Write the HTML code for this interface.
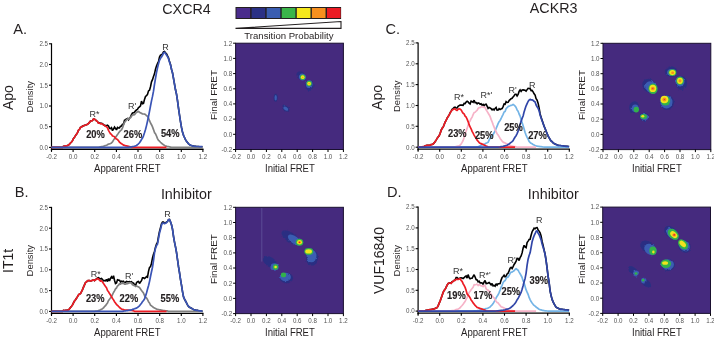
<!DOCTYPE html><html><head><meta charset="utf-8"><style>html,body{margin:0;padding:0;background:#fff;}svg{display:block;filter:blur(0.25px);}text{font-family:"Liberation Sans", sans-serif;}</style></head><body>
<svg width="714" height="338" viewBox="0 0 714 338">
<defs><filter id="soft" x="-5%" y="-5%" width="110%" height="110%"><feGaussianBlur stdDeviation="0.7"/></filter><filter id="rough" x="-5%" y="-5%" width="110%" height="110%"><feTurbulence type="fractalNoise" baseFrequency="0.3" numOctaves="2" seed="5" result="t"/><feDisplacementMap in="SourceGraphic" in2="t" scale="2.5" xChannelSelector="R" yChannelSelector="G" result="d"/><feGaussianBlur in="d" stdDeviation="0.7"/></filter>
<clipPath id="c23543"><rect x="235.6" y="43.2" width="107.8" height="106.3"/></clipPath>
<clipPath id="c235207"><rect x="235.6" y="207.3" width="107.8" height="106.3"/></clipPath>
<clipPath id="c60343"><rect x="603" y="43.3" width="107.8" height="106.3"/></clipPath>
<clipPath id="c602207"><rect x="602.7" y="207.1" width="107.8" height="106.3"/></clipPath>
</defs>
<rect width="714" height="338" fill="#fff"/>
<text x="162.3" y="13.8" font-size="14.3" fill="#231f20">CXCR4</text>
<text x="529.8" y="13.1" font-size="14.3" fill="#231f20">ACKR3</text>
<text x="13.3" y="33.9" font-size="14.6" fill="#231f20">A.</text>
<text x="14.8" y="196.7" font-size="14.6" fill="#231f20">B.</text>
<text x="385.5" y="34.1" font-size="14.6" fill="#231f20">C.</text>
<text x="386.9" y="197.3" font-size="14.6" fill="#231f20">D.</text>
<text x="160.9" y="198.5" font-size="14.3" fill="#231f20">Inhibitor</text>
<text x="527.8" y="198.5" font-size="14.3" fill="#231f20">Inhibitor</text>
<text x="13.1" y="110" font-size="14" fill="#231f20" transform="rotate(-90 13.1 110)">Apo</text>
<text x="382.1" y="109.9" font-size="14" fill="#231f20" transform="rotate(-90 382.1 109.9)">Apo</text>
<text x="13.3" y="273" font-size="14" fill="#231f20" transform="rotate(-90 13.3 273)">IT1t</text>
<text x="383.7" y="294" font-size="14" fill="#231f20" transform="rotate(-90 383.7 294)">VUF16840</text>
<rect x="235.5" y="7" width="105.6" height="12" fill="#231f20"/>
<rect x="236.50" y="8" width="13.7" height="10" fill="#4a2c8c"/>
<rect x="251.57" y="8" width="13.7" height="10" fill="#2b3185"/>
<rect x="266.64" y="8" width="13.7" height="10" fill="#3a5db0"/>
<rect x="281.71" y="8" width="13.7" height="10" fill="#3ab54a"/>
<rect x="296.78" y="8" width="13.7" height="10" fill="#f5e71c"/>
<rect x="311.85" y="8" width="13.7" height="10" fill="#f7901e"/>
<rect x="326.92" y="8" width="13.7" height="10" fill="#eb1c24"/>
<polygon points="235.5,28.4 341,21.5 341,28.4" fill="#fff" stroke="#231f20" stroke-width="1.1" stroke-linejoin="miter"/>
<text x="244.3" y="38.6" font-size="9.7" fill="#231f20" textLength="89.2" lengthAdjust="spacingAndGlyphs">Transition Probability</text>
<line x1="51.5" y1="43.3" x2="51.5" y2="150.8" stroke="#000" stroke-width="1.2"/>
<line x1="49.0" y1="147.4" x2="51.5" y2="147.4" stroke="#000" stroke-width="1.1"/>
<text transform="translate(48.0 149.7) scale(1 1.12)" font-size="6.2" fill="#555" text-anchor="end">0.0</text>
<line x1="49.0" y1="126.7" x2="51.5" y2="126.7" stroke="#000" stroke-width="1.1"/>
<text transform="translate(48.0 129.0) scale(1 1.12)" font-size="6.2" fill="#555" text-anchor="end">0.5</text>
<line x1="49.0" y1="106.0" x2="51.5" y2="106.0" stroke="#000" stroke-width="1.1"/>
<text transform="translate(48.0 108.2) scale(1 1.12)" font-size="6.2" fill="#555" text-anchor="end">1.0</text>
<line x1="49.0" y1="85.2" x2="51.5" y2="85.2" stroke="#000" stroke-width="1.1"/>
<text transform="translate(48.0 87.5) scale(1 1.12)" font-size="6.2" fill="#555" text-anchor="end">1.5</text>
<line x1="49.0" y1="64.5" x2="51.5" y2="64.5" stroke="#000" stroke-width="1.1"/>
<text transform="translate(48.0 66.8) scale(1 1.12)" font-size="6.2" fill="#555" text-anchor="end">2.0</text>
<line x1="49.0" y1="43.8" x2="51.5" y2="43.8" stroke="#000" stroke-width="1.1"/>
<text transform="translate(48.0 46.1) scale(1 1.12)" font-size="6.2" fill="#555" text-anchor="end">2.5</text>
<line x1="50.9" y1="149.3" x2="203.5" y2="149.3" stroke="#000" stroke-width="1.4"/>
<line x1="51.5" y1="149.3" x2="51.5" y2="151.9" stroke="#000" stroke-width="1.1"/>
<text transform="translate(51.5 159.3) scale(1 1.12)" font-size="6.2" fill="#555" text-anchor="middle">-0.2</text>
<line x1="73.1" y1="149.3" x2="73.1" y2="151.9" stroke="#000" stroke-width="1.1"/>
<text transform="translate(73.1 159.3) scale(1 1.12)" font-size="6.2" fill="#555" text-anchor="middle">0.0</text>
<line x1="94.7" y1="149.3" x2="94.7" y2="151.9" stroke="#000" stroke-width="1.1"/>
<text transform="translate(94.7 159.3) scale(1 1.12)" font-size="6.2" fill="#555" text-anchor="middle">0.2</text>
<line x1="116.4" y1="149.3" x2="116.4" y2="151.9" stroke="#000" stroke-width="1.1"/>
<text transform="translate(116.4 159.3) scale(1 1.12)" font-size="6.2" fill="#555" text-anchor="middle">0.4</text>
<line x1="138.0" y1="149.3" x2="138.0" y2="151.9" stroke="#000" stroke-width="1.1"/>
<text transform="translate(138.0 159.3) scale(1 1.12)" font-size="6.2" fill="#555" text-anchor="middle">0.6</text>
<line x1="159.7" y1="149.3" x2="159.7" y2="151.9" stroke="#000" stroke-width="1.1"/>
<text transform="translate(159.7 159.3) scale(1 1.12)" font-size="6.2" fill="#555" text-anchor="middle">0.8</text>
<line x1="181.3" y1="149.3" x2="181.3" y2="151.9" stroke="#000" stroke-width="1.1"/>
<text transform="translate(181.3 159.3) scale(1 1.12)" font-size="6.2" fill="#555" text-anchor="middle">1.0</text>
<line x1="202.9" y1="149.3" x2="202.9" y2="151.9" stroke="#000" stroke-width="1.1"/>
<text transform="translate(202.9 159.3) scale(1 1.12)" font-size="6.2" fill="#555" text-anchor="middle">1.2</text>
<polyline points="51.5,147.4 52.5,147.4 53.5,147.4 54.5,147.4 55.5,147.4 56.5,147.4 57.5,147.4 58.5,147.4 59.5,147.4 60.5,147.4 61.5,147.4 62.5,147.4 63.5,146.3 64.5,146.2 65.5,145.9 66.5,145.8 67.5,145.6 68.5,145.0 69.5,144.1 70.5,143.0 71.5,142.0 72.5,140.7 73.5,138.5 74.5,137.2 75.5,135.6 76.5,134.3 77.5,132.6 78.5,130.2 79.5,129.3 80.5,127.3 81.5,127.2 82.5,126.0 83.5,125.9 84.5,125.3 85.5,125.1 86.5,124.7 87.5,124.2 88.5,123.5 89.5,122.4 90.5,121.0 91.5,120.8 92.5,120.6 93.5,118.9 94.5,119.2 95.5,119.8 96.5,121.0 97.5,121.6 98.5,123.1 99.5,122.8 100.5,123.3 101.5,123.3 102.5,123.6 103.5,124.8 104.5,125.4 105.5,125.6 106.5,125.8 107.5,125.2 108.5,126.0 109.5,128.4 110.5,128.6 111.5,127.7 112.5,130.7 113.5,129.0 114.5,127.1 115.5,128.5 116.5,129.9 117.5,127.4 118.5,128.0 119.5,127.9 120.5,126.2 121.5,126.0 122.5,124.3 123.5,124.2 124.5,120.2 125.5,119.7 126.5,119.0 127.5,118.5 128.5,119.8 129.5,118.0 130.5,117.0 131.5,114.7 132.5,113.0 133.5,112.8 134.5,112.1 135.5,110.9 136.5,110.0 137.5,109.3 138.5,107.6 139.5,106.8 140.5,105.8 141.5,101.1 142.5,103.8 143.5,103.4 144.5,99.4 145.5,96.4 146.5,95.6 147.5,94.4 148.5,90.9 149.5,90.3 150.5,86.7 151.5,81.8 152.5,79.7 153.5,76.6 154.5,73.8 155.5,69.2 156.5,66.0 157.5,63.5 158.5,61.6 159.5,57.1 160.5,55.1 161.5,54.8 162.5,53.8 163.5,51.9 164.5,51.5 165.5,52.7 166.5,53.8 167.5,55.8 168.5,57.9 169.5,61.6 170.5,64.5 171.5,69.2 172.5,72.8 173.5,78.4 174.5,84.2 175.5,89.8 176.5,94.1 177.5,100.7 178.5,108.2 179.5,115.0 180.5,121.6 181.5,127.4 182.5,132.0 183.5,135.3 184.5,137.5 185.5,139.6 186.5,141.3 187.5,142.5 188.5,143.8 189.5,144.6 190.5,145.2 191.5,145.5 192.5,145.9 193.5,146.1 194.5,146.3 195.5,146.4 196.5,146.5 197.5,146.5 198.5,146.5 199.5,146.7 200.5,146.7 201.5,146.7 202.5,146.7" fill="none" stroke="#000" stroke-width="1.6" stroke-linejoin="miter" stroke-miterlimit="2"/>
<polyline points="51.5,147.4 52.5,147.4 53.5,147.4 54.5,147.4 55.5,147.4 56.5,147.4 57.5,147.4 58.5,147.4 59.5,147.4 60.5,147.4 61.5,147.4 62.5,147.4 63.5,147.4 64.5,147.4 65.5,147.4 66.5,147.4 67.5,147.4 68.5,147.4 69.5,147.4 70.5,147.4 71.5,147.4 72.5,147.4 73.5,147.4 74.5,147.4 75.5,147.4 76.5,147.4 77.5,147.4 78.5,147.4 79.5,147.4 80.5,147.4 81.5,147.4 82.5,147.4 83.5,147.4 84.5,147.4 85.5,147.4 86.5,147.4 87.5,147.4 88.5,147.4 89.5,147.4 90.5,147.4 91.5,147.4 92.5,147.4 93.5,147.4 94.5,147.4 95.5,147.4 96.5,147.4 97.5,147.4 98.5,147.3 99.5,147.1 100.5,146.9 101.5,146.7 102.5,146.5 103.5,146.2 104.5,145.9 105.5,145.5 106.5,145.2 107.5,144.7 108.5,144.0 109.5,143.9 110.5,143.5 111.5,142.9 112.5,141.9 113.5,140.1 114.5,138.6 115.5,137.4 116.5,136.0 117.5,134.6 118.5,133.1 119.5,131.7 120.5,130.6 121.5,129.9 122.5,127.9 123.5,124.9 124.5,122.5 125.5,121.2 126.5,119.9 127.5,118.8 128.5,119.3 129.5,118.0 130.5,117.8 131.5,116.2 132.5,115.0 133.5,114.8 134.5,114.6 135.5,113.4 136.5,112.3 137.5,111.9 138.5,111.4 139.5,112.3 140.5,112.9 141.5,113.3 142.5,114.0 143.5,114.0 144.5,114.1 145.5,114.5 146.5,115.7 147.5,116.1 148.5,118.0 149.5,120.7 150.5,123.0 151.5,124.7 152.5,126.9 153.5,129.6 154.5,132.6 155.5,133.8 156.5,136.0 157.5,138.6 158.5,140.4 159.5,141.2 160.5,142.3 161.5,143.2 162.5,144.1 163.5,144.7 164.5,145.4 165.5,146.1 166.5,146.2 167.5,146.7 168.5,146.7 169.5,146.9 170.5,147.1 171.5,147.3 172.5,147.3 173.5,147.4 174.5,147.4 175.5,147.4 176.5,147.4 177.5,147.4 178.5,147.4 179.5,147.4 180.5,147.4 181.5,147.4 182.5,147.4 183.5,147.4 184.5,147.4 185.5,147.4 186.5,147.4 187.5,147.4 188.5,147.4 189.5,147.4 190.5,147.4 191.5,147.4 192.5,147.4 193.5,147.4 194.5,147.4 195.5,147.4 196.5,147.4 197.5,147.4 198.5,147.4 199.5,147.4 200.5,147.4 201.5,147.4 202.5,147.4" fill="none" stroke="#808080" stroke-width="1.7" stroke-linejoin="round"/>
<polyline points="51.5,147.4 52.5,147.4 53.5,147.4 54.5,147.4 55.5,147.4 56.5,147.4 57.5,147.4 58.5,147.4 59.5,147.4 60.5,147.4 61.5,147.4 62.5,147.4 63.5,146.3 64.5,146.2 65.5,145.9 66.5,145.8 67.5,145.6 68.5,145.0 69.5,144.1 70.5,143.0 71.5,142.0 72.5,140.7 73.5,138.5 74.5,137.2 75.5,135.6 76.5,134.3 77.5,132.6 78.5,130.2 79.5,129.3 80.5,127.3 81.5,127.2 82.5,126.0 83.5,125.9 84.5,125.3 85.5,125.1 86.5,124.7 87.5,124.2 88.5,123.5 89.5,122.4 90.5,121.0 91.5,120.8 92.5,120.6 93.5,118.9 94.5,119.2 95.5,119.8 96.5,121.0 97.5,121.6 98.5,123.2 99.5,123.1 100.5,123.8 101.5,123.7 102.5,124.0 103.5,125.0 104.5,125.4 105.5,126.3 106.5,126.8 107.5,127.9 108.5,130.3 109.5,132.1 110.5,133.7 111.5,134.4 112.5,136.0 113.5,136.3 114.5,136.7 115.5,138.3 116.5,139.1 117.5,139.6 118.5,140.6 119.5,142.2 120.5,143.0 121.5,143.7 122.5,144.3 123.5,145.1 124.5,145.4 125.5,145.8 126.5,145.9 127.5,146.1 128.5,146.3 129.5,146.7 130.5,146.8 131.5,147.4 132.5,147.4 133.5,147.4 134.5,147.4 135.5,147.4 136.5,147.4 137.5,147.4 138.5,147.4 139.5,147.4 140.5,147.4 141.5,147.4 142.5,147.4 143.5,147.4 144.5,147.4 145.5,147.4 146.5,147.4 147.5,147.4 148.5,147.4 149.5,147.4 150.5,147.4 151.5,147.4 152.5,147.4 153.5,147.4 154.5,147.4 155.5,147.4 156.5,147.4 157.5,147.4 158.5,147.4 159.5,147.4 160.5,147.4 161.5,147.4 162.5,147.4 163.5,147.4 164.5,147.4 165.5,147.4 166.5,147.4" fill="none" stroke="#ed1c24" stroke-width="1.7" stroke-linejoin="round"/>
<polyline points="51.5,147.4 52.5,147.4 53.5,147.4 54.5,147.4 55.5,147.4 56.5,147.4 57.5,147.4 58.5,147.4 59.5,147.4 60.5,147.4 61.5,147.4 62.5,147.4 63.5,147.4 64.5,147.4 65.5,147.4 66.5,147.4 67.5,147.4 68.5,147.4 69.5,147.4 70.5,147.4 71.5,147.4 72.5,147.4 73.5,147.4 74.5,147.4 75.5,147.4 76.5,147.4 77.5,147.4 78.5,147.4 79.5,147.4 80.5,147.4 81.5,147.4 82.5,147.4 83.5,147.4 84.5,147.4 85.5,147.4 86.5,147.4 87.5,147.4 88.5,147.4 89.5,147.4 90.5,147.4 91.5,147.4 92.5,147.4 93.5,147.4 94.5,147.4 95.5,147.4 96.5,147.4 97.5,147.4 98.5,147.4 99.5,147.4 100.5,147.4 101.5,147.4 102.5,147.4 103.5,147.4 104.5,147.4 105.5,147.4 106.5,147.4 107.5,147.4 108.5,147.4 109.5,147.4 110.5,147.4 111.5,147.4 112.5,147.4 113.5,147.4 114.5,147.4 115.5,147.4 116.5,147.4 117.5,147.4 118.5,147.4 119.5,147.4 120.5,147.4 121.5,147.4 122.5,147.4 123.5,147.4 124.5,147.4 125.5,147.4 126.5,147.4 127.5,147.3 128.5,147.3 129.5,147.2 130.5,147.1 131.5,146.9 132.5,146.7 133.5,146.5 134.5,146.2 135.5,145.9 136.5,145.5 137.5,144.6 138.5,143.8 139.5,142.7 140.5,141.3 141.5,139.5 142.5,138.1 143.5,135.8 144.5,132.8 145.5,129.5 146.5,125.6 147.5,121.2 148.5,116.5 149.5,111.3 150.5,106.0 151.5,100.9 152.5,96.4 153.5,91.2 154.5,84.3 155.5,78.3 156.5,72.6 157.5,67.8 158.5,63.9 159.5,60.3 160.5,58.3 161.5,57.0 162.5,55.4 163.5,52.9 164.5,52.3 165.5,53.5 166.5,55.1 167.5,56.6 168.5,58.7 169.5,62.1 170.5,64.9 171.5,69.3 172.5,72.9 173.5,78.4 174.5,84.2 175.5,89.8 176.5,94.1 177.5,100.7 178.5,108.2 179.5,115.0 180.5,121.6 181.5,127.4 182.5,132.0 183.5,135.3 184.5,137.5 185.5,139.6 186.5,141.3 187.5,142.5 188.5,143.8 189.5,144.6 190.5,145.2 191.5,145.5 192.5,145.9 193.5,146.1 194.5,146.3 195.5,146.4 196.5,146.5 197.5,146.5 198.5,146.5 199.5,146.7 200.5,146.7 201.5,146.7 202.5,146.7" fill="none" stroke="#3a54b6" stroke-width="1.7" stroke-linejoin="round"/>
<text x="32.8" y="112.4" font-size="9.3" fill="#231f20" transform="rotate(-90 32.8 112.4)" textLength="31.4" lengthAdjust="spacingAndGlyphs">Density</text>
<text x="0" y="0" font-size="9.6" fill="#231f20" transform="translate(94 172.4) scale(1 1.1)" textLength="66.5" lengthAdjust="spacingAndGlyphs">Apparent FRET</text>
<text x="0" y="0" font-size="9" fill="#333" transform="translate(89.6 117.2) scale(1 1.1)">R*</text>
<text x="0" y="0" font-size="9" fill="#333" transform="translate(128.1 108.6) scale(1 1.1)">R'</text>
<text x="0" y="0" font-size="9" fill="#333" transform="translate(162.2 49.8) scale(1 1.1)">R</text>
<text x="0" y="0" font-size="9.3" fill="#231f20" font-weight="bold" stroke="#231f20" stroke-width="0.15" transform="translate(86.2 137.6) scale(1 1.12)">20%</text>
<text x="0" y="0" font-size="9.3" fill="#231f20" font-weight="bold" stroke="#231f20" stroke-width="0.15" transform="translate(123.6 137.6) scale(1 1.12)">26%</text>
<text x="0" y="0" font-size="9.3" fill="#231f20" font-weight="bold" stroke="#231f20" stroke-width="0.15" transform="translate(160.9 137.4) scale(1 1.12)">54%</text>
<line x1="51.5" y1="206.9" x2="51.5" y2="314.9" stroke="#000" stroke-width="1.2"/>
<line x1="49.0" y1="311.4" x2="51.5" y2="311.4" stroke="#000" stroke-width="1.1"/>
<text transform="translate(48.0 313.7) scale(1 1.12)" font-size="6.2" fill="#555" text-anchor="end">0.0</text>
<line x1="49.0" y1="290.6" x2="51.5" y2="290.6" stroke="#000" stroke-width="1.1"/>
<text transform="translate(48.0 292.9) scale(1 1.12)" font-size="6.2" fill="#555" text-anchor="end">0.5</text>
<line x1="49.0" y1="269.8" x2="51.5" y2="269.8" stroke="#000" stroke-width="1.1"/>
<text transform="translate(48.0 272.1) scale(1 1.12)" font-size="6.2" fill="#555" text-anchor="end">1.0</text>
<line x1="49.0" y1="249.0" x2="51.5" y2="249.0" stroke="#000" stroke-width="1.1"/>
<text transform="translate(48.0 251.3) scale(1 1.12)" font-size="6.2" fill="#555" text-anchor="end">1.5</text>
<line x1="49.0" y1="228.2" x2="51.5" y2="228.2" stroke="#000" stroke-width="1.1"/>
<text transform="translate(48.0 230.5) scale(1 1.12)" font-size="6.2" fill="#555" text-anchor="end">2.0</text>
<line x1="49.0" y1="207.4" x2="51.5" y2="207.4" stroke="#000" stroke-width="1.1"/>
<text transform="translate(48.0 209.7) scale(1 1.12)" font-size="6.2" fill="#555" text-anchor="end">2.5</text>
<line x1="50.9" y1="313.4" x2="203.5" y2="313.4" stroke="#000" stroke-width="1.4"/>
<line x1="51.5" y1="313.4" x2="51.5" y2="316.0" stroke="#000" stroke-width="1.1"/>
<text transform="translate(51.5 323.4) scale(1 1.12)" font-size="6.2" fill="#555" text-anchor="middle">-0.2</text>
<line x1="73.1" y1="313.4" x2="73.1" y2="316.0" stroke="#000" stroke-width="1.1"/>
<text transform="translate(73.1 323.4) scale(1 1.12)" font-size="6.2" fill="#555" text-anchor="middle">0.0</text>
<line x1="94.7" y1="313.4" x2="94.7" y2="316.0" stroke="#000" stroke-width="1.1"/>
<text transform="translate(94.7 323.4) scale(1 1.12)" font-size="6.2" fill="#555" text-anchor="middle">0.2</text>
<line x1="116.4" y1="313.4" x2="116.4" y2="316.0" stroke="#000" stroke-width="1.1"/>
<text transform="translate(116.4 323.4) scale(1 1.12)" font-size="6.2" fill="#555" text-anchor="middle">0.4</text>
<line x1="138.0" y1="313.4" x2="138.0" y2="316.0" stroke="#000" stroke-width="1.1"/>
<text transform="translate(138.0 323.4) scale(1 1.12)" font-size="6.2" fill="#555" text-anchor="middle">0.6</text>
<line x1="159.7" y1="313.4" x2="159.7" y2="316.0" stroke="#000" stroke-width="1.1"/>
<text transform="translate(159.7 323.4) scale(1 1.12)" font-size="6.2" fill="#555" text-anchor="middle">0.8</text>
<line x1="181.3" y1="313.4" x2="181.3" y2="316.0" stroke="#000" stroke-width="1.1"/>
<text transform="translate(181.3 323.4) scale(1 1.12)" font-size="6.2" fill="#555" text-anchor="middle">1.0</text>
<line x1="202.9" y1="313.4" x2="202.9" y2="316.0" stroke="#000" stroke-width="1.1"/>
<text transform="translate(202.9 323.4) scale(1 1.12)" font-size="6.2" fill="#555" text-anchor="middle">1.2</text>
<polyline points="51.5,311.4 52.5,311.4 53.5,311.4 54.5,311.4 55.5,311.4 56.5,311.4 57.5,311.4 58.5,311.4 59.5,311.4 60.5,311.4 61.5,311.4 62.5,311.4 63.5,310.4 64.5,310.5 65.5,310.4 66.5,310.4 67.5,310.0 68.5,309.8 69.5,308.8 70.5,307.5 71.5,306.3 72.5,304.9 73.5,302.9 74.5,301.0 75.5,299.7 76.5,298.2 77.5,296.7 78.5,294.9 79.5,294.0 80.5,293.6 81.5,291.7 82.5,289.6 83.5,287.1 84.5,284.9 85.5,282.6 86.5,282.0 87.5,280.7 88.5,280.6 89.5,280.6 90.5,280.9 91.5,280.8 92.5,280.2 93.5,279.8 94.5,280.6 95.5,279.4 96.5,279.1 97.5,277.9 98.5,277.7 99.5,278.4 100.5,278.8 101.5,278.5 102.5,279.6 103.5,280.8 104.5,280.5 105.5,280.8 106.5,279.4 107.5,281.6 108.5,278.6 109.5,280.9 110.5,278.4 111.5,276.8 112.5,278.6 113.5,275.7 114.5,280.2 115.5,283.5 116.5,283.0 117.5,279.7 118.5,280.1 119.5,280.2 120.5,282.0 121.5,281.2 122.5,281.8 123.5,281.2 124.5,282.6 125.5,282.2 126.5,281.5 127.5,281.8 128.5,281.7 129.5,281.6 130.5,281.9 131.5,281.6 132.5,282.9 133.5,283.0 134.5,284.6 135.5,285.7 136.5,282.7 137.5,281.7 138.5,281.4 139.5,283.5 140.5,281.9 141.5,280.7 142.5,277.8 143.5,277.8 144.5,278.5 145.5,277.7 146.5,276.5 147.5,277.2 148.5,271.3 149.5,267.4 150.5,266.8 151.5,263.2 152.5,258.0 153.5,254.2 154.5,251.4 155.5,247.2 156.5,244.0 157.5,242.4 158.5,236.5 159.5,231.4 160.5,227.7 161.5,223.9 162.5,222.0 163.5,222.1 164.5,223.0 165.5,222.8 166.5,222.2 167.5,221.2 168.5,219.7 169.5,219.5 170.5,221.9 171.5,224.8 172.5,229.2 173.5,236.3 174.5,242.1 175.5,246.9 176.5,252.4 177.5,259.5 178.5,266.7 179.5,272.6 180.5,279.3 181.5,285.2 182.5,291.6 183.5,296.8 184.5,299.2 185.5,301.0 186.5,302.9 187.5,304.9 188.5,306.4 189.5,307.3 190.5,307.8 191.5,308.3 192.5,308.9 193.5,309.5 194.5,309.9 195.5,310.1 196.5,310.4 197.5,310.4 198.5,310.7 199.5,310.9 200.5,310.9 201.5,311.0 202.5,311.4" fill="none" stroke="#000" stroke-width="1.6" stroke-linejoin="miter" stroke-miterlimit="2"/>
<polyline points="51.5,311.4 52.5,311.4 53.5,311.4 54.5,311.4 55.5,311.4 56.5,311.4 57.5,311.4 58.5,311.4 59.5,311.4 60.5,311.4 61.5,311.4 62.5,311.4 63.5,311.4 64.5,311.4 65.5,311.4 66.5,311.4 67.5,311.4 68.5,311.4 69.5,311.4 70.5,311.4 71.5,311.4 72.5,311.4 73.5,311.4 74.5,311.4 75.5,311.4 76.5,311.4 77.5,311.4 78.5,311.4 79.5,311.4 80.5,311.4 81.5,311.4 82.5,311.4 83.5,311.4 84.5,311.4 85.5,311.4 86.5,311.4 87.5,311.4 88.5,311.4 89.5,311.4 90.5,311.4 91.5,311.4 92.5,311.4 93.5,311.4 94.5,311.4 95.5,311.2 96.5,311.1 97.5,311.0 98.5,310.6 99.5,310.2 100.5,309.8 101.5,309.2 102.5,308.7 103.5,307.9 104.5,306.6 105.5,305.7 106.5,304.2 107.5,302.9 108.5,300.5 109.5,299.4 110.5,297.9 111.5,296.6 112.5,294.6 113.5,292.5 114.5,290.9 115.5,288.9 116.5,288.0 117.5,285.9 118.5,285.3 119.5,283.7 120.5,284.1 121.5,283.1 122.5,283.4 123.5,282.9 124.5,284.1 125.5,284.1 126.5,283.7 127.5,283.6 128.5,283.2 129.5,282.8 130.5,282.6 131.5,283.3 132.5,284.8 133.5,285.3 134.5,285.5 135.5,286.5 136.5,285.9 137.5,286.5 138.5,286.9 139.5,287.5 140.5,289.1 141.5,290.4 142.5,291.7 143.5,293.1 144.5,295.5 145.5,297.5 146.5,297.9 147.5,299.5 148.5,301.7 149.5,303.0 150.5,305.1 151.5,305.9 152.5,306.7 153.5,307.5 154.5,308.0 155.5,308.5 156.5,309.1 157.5,309.3 158.5,309.5 159.5,309.8 160.5,309.8 161.5,310.2 162.5,310.3 163.5,310.5 164.5,310.7 165.5,310.9 166.5,310.9 167.5,310.9 168.5,311.4 169.5,311.4 170.5,311.4 171.5,311.4 172.5,311.4 173.5,311.4 174.5,311.4 175.5,311.4 176.5,311.4 177.5,311.4 178.5,311.4 179.5,311.4 180.5,311.4 181.5,311.4 182.5,311.4 183.5,311.4 184.5,311.4 185.5,311.4 186.5,311.4 187.5,311.4 188.5,311.4 189.5,311.4 190.5,311.4 191.5,311.4 192.5,311.4 193.5,311.4 194.5,311.4 195.5,311.4 196.5,311.4 197.5,311.4 198.5,311.4 199.5,311.4 200.5,311.4 201.5,311.4 202.5,311.4" fill="none" stroke="#808080" stroke-width="1.7" stroke-linejoin="round"/>
<polyline points="51.5,311.4 52.5,311.4 53.5,311.4 54.5,311.4 55.5,311.4 56.5,311.4 57.5,311.4 58.5,311.4 59.5,311.4 60.5,311.4 61.5,311.4 62.5,311.4 63.5,310.4 64.5,310.5 65.5,310.4 66.5,310.4 67.5,310.0 68.5,309.8 69.5,308.8 70.5,307.5 71.5,306.3 72.5,304.9 73.5,302.9 74.5,301.0 75.5,299.7 76.5,298.2 77.5,296.7 78.5,294.9 79.5,294.0 80.5,293.6 81.5,291.7 82.5,289.6 83.5,287.1 84.5,284.9 85.5,282.6 86.5,282.0 87.5,280.7 88.5,280.6 89.5,280.6 90.5,280.9 91.5,280.8 92.5,280.2 93.5,279.8 94.5,280.6 95.5,279.7 96.5,279.5 97.5,278.4 98.5,278.9 99.5,280.1 100.5,281.1 101.5,280.8 102.5,282.0 103.5,283.4 104.5,285.1 105.5,286.4 106.5,287.7 107.5,290.5 108.5,291.7 109.5,293.6 110.5,295.0 111.5,296.6 112.5,298.5 113.5,299.8 114.5,301.7 115.5,303.1 116.5,304.5 117.5,305.3 118.5,306.4 119.5,307.3 120.5,308.3 121.5,308.9 122.5,309.4 123.5,309.6 124.5,310.0 125.5,310.1 126.5,310.0 127.5,310.0 128.5,310.2 129.5,310.3 130.5,310.4 131.5,310.4 132.5,310.6 133.5,310.7 134.5,311.4 135.5,311.4 136.5,311.4 137.5,311.4 138.5,311.4 139.5,311.4 140.5,311.4 141.5,311.4 142.5,311.4 143.5,311.4 144.5,311.4 145.5,311.4 146.5,311.4 147.5,311.4 148.5,311.4 149.5,311.4 150.5,311.4 151.5,311.4 152.5,311.4 153.5,311.4 154.5,311.4 155.5,311.4 156.5,311.4 157.5,311.4 158.5,311.4 159.5,311.4 160.5,311.4 161.5,311.4 162.5,311.4 163.5,311.4 164.5,311.4 165.5,311.4 166.5,311.4" fill="none" stroke="#ed1c24" stroke-width="1.7" stroke-linejoin="round"/>
<polyline points="51.5,311.4 52.5,311.4 53.5,311.4 54.5,311.4 55.5,311.4 56.5,311.4 57.5,311.4 58.5,311.4 59.5,311.4 60.5,311.4 61.5,311.4 62.5,311.4 63.5,311.4 64.5,311.4 65.5,311.4 66.5,311.4 67.5,311.4 68.5,311.4 69.5,311.4 70.5,311.4 71.5,311.4 72.5,311.4 73.5,311.4 74.5,311.4 75.5,311.4 76.5,311.4 77.5,311.4 78.5,311.4 79.5,311.4 80.5,311.4 81.5,311.4 82.5,311.4 83.5,311.4 84.5,311.4 85.5,311.4 86.5,311.4 87.5,311.4 88.5,311.4 89.5,311.4 90.5,311.4 91.5,311.4 92.5,311.4 93.5,311.4 94.5,311.4 95.5,311.4 96.5,311.4 97.5,311.4 98.5,311.4 99.5,311.4 100.5,311.4 101.5,311.4 102.5,311.4 103.5,311.4 104.5,311.4 105.5,311.4 106.5,311.4 107.5,311.4 108.5,311.4 109.5,311.4 110.5,311.4 111.5,311.4 112.5,311.4 113.5,311.4 114.5,311.4 115.5,311.4 116.5,311.4 117.5,311.4 118.5,311.4 119.5,311.4 120.5,311.3 121.5,311.3 122.5,311.3 123.5,311.1 124.5,311.0 125.5,310.8 126.5,310.7 127.5,310.6 128.5,310.4 129.5,310.2 130.5,310.1 131.5,309.9 132.5,309.4 133.5,309.1 134.5,308.8 135.5,308.4 136.5,308.1 137.5,307.5 138.5,306.7 139.5,305.8 140.5,304.5 141.5,303.3 142.5,301.6 143.5,300.5 144.5,299.0 145.5,296.1 146.5,293.0 147.5,289.3 148.5,285.7 149.5,281.6 150.5,276.5 151.5,271.8 152.5,267.2 153.5,260.7 154.5,252.9 155.5,248.2 156.5,245.6 157.5,244.2 158.5,238.7 159.5,233.1 160.5,229.6 161.5,225.2 162.5,223.0 163.5,223.0 164.5,223.7 165.5,223.3 166.5,222.7 167.5,221.7 168.5,219.7 169.5,219.5 170.5,221.9 171.5,224.8 172.5,229.2 173.5,236.3 174.5,242.1 175.5,246.9 176.5,252.4 177.5,259.5 178.5,266.7 179.5,272.6 180.5,279.3 181.5,285.2 182.5,291.6 183.5,296.8 184.5,299.2 185.5,301.0 186.5,302.9 187.5,304.9 188.5,306.4 189.5,307.3 190.5,307.8 191.5,308.3 192.5,308.9 193.5,309.5 194.5,309.9 195.5,310.1 196.5,310.4 197.5,310.4 198.5,310.7 199.5,310.9 200.5,310.9 201.5,311.0 202.5,311.4" fill="none" stroke="#3a54b6" stroke-width="1.7" stroke-linejoin="round"/>
<text x="32.8" y="276.4" font-size="9.3" fill="#231f20" transform="rotate(-90 32.8 276.4)" textLength="31.4" lengthAdjust="spacingAndGlyphs">Density</text>
<text x="0" y="0" font-size="9.6" fill="#231f20" transform="translate(94 335.8) scale(1 1.1)" textLength="66.5" lengthAdjust="spacingAndGlyphs">Apparent FRET</text>
<text x="0" y="0" font-size="9" fill="#333" transform="translate(90.7 277) scale(1 1.1)">R*</text>
<text x="0" y="0" font-size="9" fill="#333" transform="translate(125.1 278.5) scale(1 1.1)">R'</text>
<text x="0" y="0" font-size="9" fill="#333" transform="translate(164.2 216.5) scale(1 1.1)">R</text>
<text x="0" y="0" font-size="9.3" fill="#231f20" font-weight="bold" stroke="#231f20" stroke-width="0.15" transform="translate(85.9 301.9) scale(1 1.12)">23%</text>
<text x="0" y="0" font-size="9.3" fill="#231f20" font-weight="bold" stroke="#231f20" stroke-width="0.15" transform="translate(119.6 301.9) scale(1 1.12)">22%</text>
<text x="0" y="0" font-size="9.3" fill="#231f20" font-weight="bold" stroke="#231f20" stroke-width="0.15" transform="translate(160.6 301.9) scale(1 1.12)">55%</text>
<line x1="418.1" y1="42.4" x2="418.1" y2="150.6" stroke="#000" stroke-width="1.2"/>
<line x1="415.6" y1="147.2" x2="418.1" y2="147.2" stroke="#000" stroke-width="1.1"/>
<text transform="translate(414.6 149.5) scale(1 1.12)" font-size="6.2" fill="#555" text-anchor="end">0.0</text>
<line x1="415.6" y1="126.3" x2="418.1" y2="126.3" stroke="#000" stroke-width="1.1"/>
<text transform="translate(414.6 128.7) scale(1 1.12)" font-size="6.2" fill="#555" text-anchor="end">0.5</text>
<line x1="415.6" y1="105.5" x2="418.1" y2="105.5" stroke="#000" stroke-width="1.1"/>
<text transform="translate(414.6 107.8) scale(1 1.12)" font-size="6.2" fill="#555" text-anchor="end">1.0</text>
<line x1="415.6" y1="84.6" x2="418.1" y2="84.6" stroke="#000" stroke-width="1.1"/>
<text transform="translate(414.6 86.9) scale(1 1.12)" font-size="6.2" fill="#555" text-anchor="end">1.5</text>
<line x1="415.6" y1="63.8" x2="418.1" y2="63.8" stroke="#000" stroke-width="1.1"/>
<text transform="translate(414.6 66.1) scale(1 1.12)" font-size="6.2" fill="#555" text-anchor="end">2.0</text>
<line x1="415.6" y1="42.9" x2="418.1" y2="42.9" stroke="#000" stroke-width="1.1"/>
<text transform="translate(414.6 45.2) scale(1 1.12)" font-size="6.2" fill="#555" text-anchor="end">2.5</text>
<line x1="417.5" y1="149.1" x2="569.9" y2="149.1" stroke="#000" stroke-width="1.4"/>
<line x1="418.1" y1="149.1" x2="418.1" y2="151.7" stroke="#000" stroke-width="1.1"/>
<text transform="translate(418.1 159.1) scale(1 1.12)" font-size="6.2" fill="#555" text-anchor="middle">-0.2</text>
<line x1="439.7" y1="149.1" x2="439.7" y2="151.7" stroke="#000" stroke-width="1.1"/>
<text transform="translate(439.7 159.1) scale(1 1.12)" font-size="6.2" fill="#555" text-anchor="middle">0.0</text>
<line x1="461.3" y1="149.1" x2="461.3" y2="151.7" stroke="#000" stroke-width="1.1"/>
<text transform="translate(461.3 159.1) scale(1 1.12)" font-size="6.2" fill="#555" text-anchor="middle">0.2</text>
<line x1="482.9" y1="149.1" x2="482.9" y2="151.7" stroke="#000" stroke-width="1.1"/>
<text transform="translate(482.9 159.1) scale(1 1.12)" font-size="6.2" fill="#555" text-anchor="middle">0.4</text>
<line x1="504.5" y1="149.1" x2="504.5" y2="151.7" stroke="#000" stroke-width="1.1"/>
<text transform="translate(504.5 159.1) scale(1 1.12)" font-size="6.2" fill="#555" text-anchor="middle">0.6</text>
<line x1="526.1" y1="149.1" x2="526.1" y2="151.7" stroke="#000" stroke-width="1.1"/>
<text transform="translate(526.1 159.1) scale(1 1.12)" font-size="6.2" fill="#555" text-anchor="middle">0.8</text>
<line x1="547.7" y1="149.1" x2="547.7" y2="151.7" stroke="#000" stroke-width="1.1"/>
<text transform="translate(547.7 159.1) scale(1 1.12)" font-size="6.2" fill="#555" text-anchor="middle">1.0</text>
<line x1="569.3" y1="149.1" x2="569.3" y2="151.7" stroke="#000" stroke-width="1.1"/>
<text transform="translate(569.3 159.1) scale(1 1.12)" font-size="6.2" fill="#555" text-anchor="middle">1.2</text>
<polyline points="418.1,147.2 419.1,147.2 420.1,147.2 421.1,147.2 422.1,146.9 423.1,146.7 424.1,146.4 425.1,146.0 426.1,145.6 427.1,145.4 428.1,145.3 429.1,145.3 430.1,145.2 431.1,144.6 432.1,144.5 433.1,144.1 434.1,142.9 435.1,141.7 436.1,140.1 437.1,138.4 438.1,137.0 439.1,135.9 440.1,133.5 441.1,130.4 442.1,128.3 443.1,127.2 444.1,124.7 445.1,122.1 446.1,120.5 447.1,118.2 448.1,116.6 449.1,115.2 450.1,112.8 451.1,111.1 452.1,109.3 453.1,108.5 454.1,107.5 455.1,107.2 456.1,108.0 457.1,108.0 458.1,106.4 459.1,105.6 460.1,105.1 461.1,105.0 462.1,105.1 463.1,105.3 464.1,103.4 465.1,103.6 466.1,102.1 467.1,101.2 468.1,101.9 469.1,103.2 470.1,103.9 471.1,101.1 472.1,101.7 473.1,102.4 474.1,100.2 475.1,102.6 476.1,102.6 477.1,103.8 478.1,102.9 479.1,103.2 480.1,104.2 481.1,103.7 482.1,105.1 483.1,104.4 484.1,105.7 485.1,104.4 486.1,104.2 487.1,106.1 488.1,108.4 489.1,107.5 490.1,107.9 491.1,108.7 492.1,109.8 493.1,109.0 494.1,110.0 495.1,108.4 496.1,107.5 497.1,110.2 498.1,110.1 499.1,108.7 500.1,109.5 501.1,108.9 502.1,108.6 503.1,106.6 504.1,103.9 505.1,104.2 506.1,101.6 507.1,102.5 508.1,102.3 509.1,100.6 510.1,99.6 511.1,98.7 512.1,98.3 513.1,96.9 514.1,95.7 515.1,94.2 516.1,94.2 517.1,96.0 518.1,94.5 519.1,91.4 520.1,89.9 521.1,91.4 522.1,90.0 523.1,89.9 524.1,90.1 525.1,90.3 526.1,91.1 527.1,89.6 528.1,88.3 529.1,88.5 530.1,88.6 531.1,90.6 532.1,90.4 533.1,91.8 534.1,93.8 535.1,95.1 536.1,98.6 537.1,100.2 538.1,103.2 539.1,107.8 540.1,113.9 541.1,117.3 542.1,120.3 543.1,123.3 544.1,126.3 545.1,128.5 546.1,131.3 547.1,133.5 548.1,136.1 549.1,137.6 550.1,139.6 551.1,141.0 552.1,141.7 553.1,142.8 554.1,143.5 555.1,144.1 556.1,144.4 557.1,144.9 558.1,145.4 559.1,145.5 560.1,145.5 561.1,145.7 562.1,145.8 563.1,145.9 564.1,146.1 565.1,146.2 566.1,146.4 567.1,146.4 568.1,146.5 569.1,146.6" fill="none" stroke="#000" stroke-width="1.6" stroke-linejoin="miter" stroke-miterlimit="2"/>
<polyline points="418.1,147.2 419.1,147.2 420.1,147.2 421.1,147.2 422.1,147.2 423.1,147.2 424.1,147.2 425.1,147.2 426.1,147.2 427.1,147.2 428.1,147.2 429.1,147.2 430.1,147.2 431.1,147.2 432.1,147.2 433.1,147.2 434.1,147.2 435.1,147.2 436.1,147.2 437.1,147.2 438.1,147.2 439.1,147.2 440.1,147.2 441.1,147.2 442.1,147.2 443.1,147.2 444.1,147.2 445.1,147.2 446.1,147.2 447.1,147.2 448.1,147.2 449.1,147.2 450.1,147.2 451.1,147.2 452.1,147.2 453.1,147.2 454.1,147.2 455.1,147.2 456.1,147.2 457.1,147.2 458.1,147.2 459.1,147.2 460.1,147.2 461.1,147.2 462.1,147.2 463.1,147.2 464.1,147.2 465.1,147.2 466.1,147.2 467.1,147.2 468.1,147.2 469.1,147.2 470.1,147.2 471.1,147.2 472.1,147.2 473.1,147.2 474.1,147.1 475.1,147.0 476.1,147.0 477.1,146.8 478.1,146.6 479.1,146.3 480.1,145.8 481.1,145.2 482.1,145.0 483.1,144.6 484.1,144.2 485.1,143.8 486.1,143.1 487.1,142.8 488.1,142.3 489.1,140.2 490.1,138.1 491.1,136.9 492.1,136.0 493.1,134.5 494.1,132.8 495.1,131.0 496.1,128.5 497.1,126.1 498.1,123.7 499.1,121.7 500.1,120.4 501.1,118.5 502.1,116.3 503.1,114.3 504.1,112.0 505.1,111.5 506.1,108.6 507.1,107.7 508.1,106.6 509.1,106.1 510.1,105.8 511.1,105.3 512.1,105.2 513.1,104.4 514.1,105.2 515.1,106.1 516.1,107.5 517.1,109.9 518.1,111.3 519.1,114.0 520.1,116.0 521.1,119.5 522.1,122.6 523.1,125.7 524.1,128.9 525.1,132.5 526.1,135.1 527.1,137.3 528.1,139.1 529.1,141.4 530.1,142.5 531.1,143.3 532.1,143.8 533.1,144.5 534.1,145.0 535.1,145.5 536.1,145.9 537.1,146.2 538.1,146.3 539.1,146.4 540.1,146.7 541.1,146.7 542.1,146.8 543.1,147.0 544.1,147.1 545.1,147.2 546.1,147.2 547.1,147.2 548.1,147.2 549.1,147.2 550.1,147.2 551.1,147.2 552.1,147.2 553.1,147.2 554.1,147.2 555.1,147.2 556.1,147.2 557.1,147.2 558.1,147.2 559.1,147.2 560.1,147.2 561.1,147.2 562.1,147.2 563.1,147.2 564.1,147.2 565.1,147.2 566.1,147.2 567.1,147.2 568.1,147.2 569.1,147.2" fill="none" stroke="#74b4e6" stroke-width="1.7" stroke-linejoin="round"/>
<polyline points="418.1,147.2 419.1,147.2 420.1,147.2 421.1,147.2 422.1,147.2 423.1,147.2 424.1,147.2 425.1,147.2 426.1,147.2 427.1,147.2 428.1,147.2 429.1,147.2 430.1,147.2 431.1,147.2 432.1,147.2 433.1,147.2 434.1,147.2 435.1,147.2 436.1,147.2 437.1,147.2 438.1,147.2 439.1,147.2 440.1,147.2 441.1,147.2 442.1,147.2 443.1,147.2 444.1,147.2 445.1,147.2 446.1,147.2 447.1,147.2 448.1,147.2 449.1,147.2 450.1,147.2 451.1,147.2 452.1,147.2 453.1,147.1 454.1,147.0 455.1,146.9 456.1,146.6 457.1,146.3 458.1,146.1 459.1,145.9 460.1,145.1 461.1,144.0 462.1,142.4 463.1,140.5 464.1,137.4 465.1,133.9 466.1,131.3 467.1,128.4 468.1,125.2 469.1,122.2 470.1,120.9 471.1,118.7 472.1,117.1 473.1,114.7 474.1,112.6 475.1,112.3 476.1,111.2 477.1,110.4 478.1,108.5 479.1,107.6 480.1,107.7 481.1,106.8 482.1,107.0 483.1,106.9 484.1,107.4 485.1,107.4 486.1,109.8 487.1,111.4 488.1,113.0 489.1,114.7 490.1,116.5 491.1,119.4 492.1,121.8 493.1,124.6 494.1,127.1 495.1,129.6 496.1,131.7 497.1,133.8 498.1,135.0 499.1,136.6 500.1,138.4 501.1,139.7 502.1,141.1 503.1,142.1 504.1,142.7 505.1,142.9 506.1,143.4 507.1,143.9 508.1,144.6 509.1,145.1 510.1,145.3 511.1,145.8 512.1,146.2 513.1,146.3 514.1,146.5 515.1,146.7 516.1,146.9 517.1,147.1 518.1,147.1 519.1,147.2 520.1,147.2 521.1,147.2 522.1,147.2 523.1,147.2 524.1,147.2 525.1,147.2 526.1,147.2 527.1,147.2 528.1,147.2 529.1,147.2 530.1,147.2 531.1,147.2 532.1,147.2 533.1,147.2 534.1,147.2 535.1,147.2 536.1,147.2" fill="none" stroke="#f6b3c8" stroke-width="1.7" stroke-linejoin="round"/>
<polyline points="418.1,147.2 419.1,147.2 420.1,147.2 421.1,147.2 422.1,146.9 423.1,146.7 424.1,146.4 425.1,146.0 426.1,145.6 427.1,145.4 428.1,145.3 429.1,145.3 430.1,145.2 431.1,144.6 432.1,144.5 433.1,144.1 434.1,142.9 435.1,141.7 436.1,140.1 437.1,138.4 438.1,137.0 439.1,135.9 440.1,133.5 441.1,130.4 442.1,128.3 443.1,127.2 444.1,124.7 445.1,122.1 446.1,120.5 447.1,118.2 448.1,116.6 449.1,115.2 450.1,113.0 451.1,111.4 452.1,110.0 453.1,109.5 454.1,108.9 455.1,108.9 456.1,110.0 457.1,110.5 458.1,109.2 459.1,108.7 460.1,109.1 461.1,109.9 462.1,111.7 463.1,113.2 464.1,113.9 465.1,116.2 466.1,117.0 467.1,119.1 468.1,121.6 469.1,124.7 470.1,126.8 471.1,128.8 472.1,131.4 473.1,133.2 474.1,135.1 475.1,136.9 476.1,138.4 477.1,140.1 478.1,141.3 479.1,142.5 480.1,143.2 481.1,143.6 482.1,144.2 483.1,144.4 484.1,144.9 485.1,145.4 486.1,146.0 487.1,146.3 488.1,147.2 489.1,147.2 490.1,147.2 491.1,147.2 492.1,147.2 493.1,147.2 494.1,147.2 495.1,147.2 496.1,147.2 497.1,147.2 498.1,147.2 499.1,147.2 500.1,147.2 501.1,147.2 502.1,147.2 503.1,147.2 504.1,147.2 505.1,147.2 506.1,147.2 507.1,147.2 508.1,147.2 509.1,147.2 510.1,147.2 511.1,147.2 512.1,147.2 513.1,147.2 514.1,147.2 515.1,147.2" fill="none" stroke="#ed1c24" stroke-width="1.7" stroke-linejoin="round"/>
<polyline points="418.1,147.2 419.1,147.2 420.1,147.2 421.1,147.2 422.1,147.2 423.1,147.2 424.1,147.2 425.1,147.2 426.1,147.2 427.1,147.2 428.1,147.2 429.1,147.2 430.1,147.2 431.1,147.2 432.1,147.2 433.1,147.2 434.1,147.2 435.1,147.2 436.1,147.2 437.1,147.2 438.1,147.2 439.1,147.2 440.1,147.2 441.1,147.2 442.1,147.2 443.1,147.2 444.1,147.2 445.1,147.2 446.1,147.2 447.1,147.2 448.1,147.2 449.1,147.2 450.1,147.2 451.1,147.2 452.1,147.2 453.1,147.2 454.1,147.2 455.1,147.2 456.1,147.2 457.1,147.2 458.1,147.2 459.1,147.2 460.1,147.2 461.1,147.2 462.1,147.2 463.1,147.2 464.1,147.2 465.1,147.2 466.1,147.2 467.1,147.2 468.1,147.2 469.1,147.2 470.1,147.2 471.1,147.2 472.1,147.2 473.1,147.2 474.1,147.2 475.1,147.2 476.1,147.2 477.1,147.2 478.1,147.2 479.1,147.2 480.1,147.2 481.1,147.2 482.1,147.2 483.1,147.2 484.1,147.2 485.1,147.2 486.1,147.2 487.1,147.2 488.1,147.2 489.1,147.2 490.1,147.2 491.1,147.2 492.1,147.2 493.1,147.2 494.1,147.2 495.1,147.2 496.1,147.2 497.1,147.2 498.1,147.1 499.1,147.0 500.1,146.9 501.1,146.7 502.1,146.5 503.1,146.4 504.1,146.1 505.1,145.8 506.1,145.5 507.1,145.2 508.1,144.6 509.1,144.0 510.1,143.2 511.1,142.4 512.1,141.6 513.1,140.6 514.1,138.7 515.1,137.0 516.1,135.7 517.1,133.6 518.1,131.1 519.1,128.3 520.1,124.4 521.1,121.3 522.1,118.4 523.1,116.0 524.1,111.9 525.1,108.8 526.1,105.8 527.1,103.6 528.1,101.5 529.1,100.1 530.1,99.3 531.1,99.9 532.1,99.9 533.1,100.3 534.1,101.3 535.1,101.9 536.1,105.0 537.1,106.7 538.1,108.3 539.1,110.9 540.1,114.9 541.1,117.9 542.1,120.8 543.1,123.5 544.1,126.3 545.1,128.5 546.1,131.3 547.1,133.5 548.1,136.1 549.1,137.6 550.1,139.6 551.1,141.0 552.1,141.7 553.1,142.8 554.1,143.5 555.1,144.1 556.1,144.4 557.1,144.9 558.1,145.4 559.1,145.5 560.1,145.5 561.1,145.7 562.1,145.8 563.1,145.9 564.1,146.1 565.1,146.2 566.1,146.4 567.1,146.4 568.1,146.5 569.1,146.6" fill="none" stroke="#3045a8" stroke-width="1.7" stroke-linejoin="round"/>
<text x="400.4" y="112" font-size="9.3" fill="#231f20" transform="rotate(-90 400.4 112)" textLength="31.4" lengthAdjust="spacingAndGlyphs">Density</text>
<text x="0" y="0" font-size="9.6" fill="#231f20" transform="translate(461 172.4) scale(1 1.1)" textLength="66.5" lengthAdjust="spacingAndGlyphs">Apparent FRET</text>
<text x="0" y="0" font-size="9" fill="#333" transform="translate(453.9 99.9) scale(1 1.1)">R*</text>
<text x="0" y="0" font-size="9" fill="#333" transform="translate(480.6 98.1) scale(1 1.1)">R*'</text>
<text x="0" y="0" font-size="9" fill="#333" transform="translate(508.6 93.3) scale(1 1.1)">R'</text>
<text x="0" y="0" font-size="9" fill="#333" transform="translate(529 87.5) scale(1 1.1)">R</text>
<text x="0" y="0" font-size="9.3" fill="#231f20" font-weight="bold" stroke="#231f20" stroke-width="0.15" transform="translate(448 136.8) scale(1 1.12)">23%</text>
<text x="0" y="0" font-size="9.3" fill="#231f20" font-weight="bold" stroke="#231f20" stroke-width="0.15" transform="translate(474.9 138.9) scale(1 1.12)">25%</text>
<text x="0" y="0" font-size="9.3" fill="#231f20" font-weight="bold" stroke="#231f20" stroke-width="0.15" transform="translate(504.2 130.6) scale(1 1.12)">25%</text>
<text x="0" y="0" font-size="9.3" fill="#231f20" font-weight="bold" stroke="#231f20" stroke-width="0.15" transform="translate(528.2 138.6) scale(1 1.12)">27%</text>
<line x1="418.1" y1="206.6" x2="418.1" y2="314.6" stroke="#000" stroke-width="1.2"/>
<line x1="415.6" y1="311.1" x2="418.1" y2="311.1" stroke="#000" stroke-width="1.1"/>
<text transform="translate(414.6 313.4) scale(1 1.12)" font-size="6.2" fill="#555" text-anchor="end">0.0</text>
<line x1="415.6" y1="290.3" x2="418.1" y2="290.3" stroke="#000" stroke-width="1.1"/>
<text transform="translate(414.6 292.6) scale(1 1.12)" font-size="6.2" fill="#555" text-anchor="end">0.5</text>
<line x1="415.6" y1="269.5" x2="418.1" y2="269.5" stroke="#000" stroke-width="1.1"/>
<text transform="translate(414.6 271.8) scale(1 1.12)" font-size="6.2" fill="#555" text-anchor="end">1.0</text>
<line x1="415.6" y1="248.7" x2="418.1" y2="248.7" stroke="#000" stroke-width="1.1"/>
<text transform="translate(414.6 251.0) scale(1 1.12)" font-size="6.2" fill="#555" text-anchor="end">1.5</text>
<line x1="415.6" y1="227.9" x2="418.1" y2="227.9" stroke="#000" stroke-width="1.1"/>
<text transform="translate(414.6 230.2) scale(1 1.12)" font-size="6.2" fill="#555" text-anchor="end">2.0</text>
<line x1="415.6" y1="207.1" x2="418.1" y2="207.1" stroke="#000" stroke-width="1.1"/>
<text transform="translate(414.6 209.4) scale(1 1.12)" font-size="6.2" fill="#555" text-anchor="end">2.5</text>
<line x1="417.5" y1="313.1" x2="569.9" y2="313.1" stroke="#000" stroke-width="1.4"/>
<line x1="418.1" y1="313.1" x2="418.1" y2="315.7" stroke="#000" stroke-width="1.1"/>
<text transform="translate(418.1 323.1) scale(1 1.12)" font-size="6.2" fill="#555" text-anchor="middle">-0.2</text>
<line x1="439.7" y1="313.1" x2="439.7" y2="315.7" stroke="#000" stroke-width="1.1"/>
<text transform="translate(439.7 323.1) scale(1 1.12)" font-size="6.2" fill="#555" text-anchor="middle">0.0</text>
<line x1="461.3" y1="313.1" x2="461.3" y2="315.7" stroke="#000" stroke-width="1.1"/>
<text transform="translate(461.3 323.1) scale(1 1.12)" font-size="6.2" fill="#555" text-anchor="middle">0.2</text>
<line x1="482.9" y1="313.1" x2="482.9" y2="315.7" stroke="#000" stroke-width="1.1"/>
<text transform="translate(482.9 323.1) scale(1 1.12)" font-size="6.2" fill="#555" text-anchor="middle">0.4</text>
<line x1="504.5" y1="313.1" x2="504.5" y2="315.7" stroke="#000" stroke-width="1.1"/>
<text transform="translate(504.5 323.1) scale(1 1.12)" font-size="6.2" fill="#555" text-anchor="middle">0.6</text>
<line x1="526.1" y1="313.1" x2="526.1" y2="315.7" stroke="#000" stroke-width="1.1"/>
<text transform="translate(526.1 323.1) scale(1 1.12)" font-size="6.2" fill="#555" text-anchor="middle">0.8</text>
<line x1="547.7" y1="313.1" x2="547.7" y2="315.7" stroke="#000" stroke-width="1.1"/>
<text transform="translate(547.7 323.1) scale(1 1.12)" font-size="6.2" fill="#555" text-anchor="middle">1.0</text>
<line x1="569.3" y1="313.1" x2="569.3" y2="315.7" stroke="#000" stroke-width="1.1"/>
<text transform="translate(569.3 323.1) scale(1 1.12)" font-size="6.2" fill="#555" text-anchor="middle">1.2</text>
<polyline points="418.1,311.1 419.1,311.1 420.1,311.1 421.1,311.1 422.1,311.1 423.1,311.1 424.1,311.0 425.1,310.7 426.1,310.4 427.1,310.2 428.1,310.0 429.1,309.8 430.1,309.6 431.1,309.6 432.1,309.3 433.1,309.0 434.1,309.0 435.1,308.4 436.1,308.0 437.1,307.6 438.1,305.9 439.1,303.4 440.1,301.1 441.1,298.3 442.1,295.6 443.1,292.5 444.1,290.5 445.1,289.4 446.1,287.4 447.1,285.2 448.1,283.6 449.1,283.0 450.1,282.9 451.1,283.2 452.1,281.7 453.1,281.2 454.1,280.5 455.1,280.1 456.1,277.6 457.1,277.6 458.1,278.7 459.1,278.6 460.1,278.1 461.1,277.9 462.1,278.0 463.1,278.5 464.1,277.7 465.1,276.5 466.1,275.9 467.1,278.1 468.1,274.6 469.1,277.5 470.1,278.8 471.1,278.3 472.1,278.3 473.1,276.3 474.1,274.8 475.1,277.0 476.1,279.6 477.1,280.0 478.1,281.9 479.1,281.2 480.1,282.9 481.1,282.9 482.1,283.0 483.1,284.2 484.1,281.9 485.1,280.5 486.1,283.6 487.1,283.4 488.1,283.0 489.1,282.5 490.1,283.6 491.1,284.9 492.1,283.5 493.1,285.9 494.1,285.4 495.1,286.2 496.1,283.7 497.1,285.1 498.1,283.7 499.1,283.7 500.1,283.6 501.1,280.1 502.1,277.4 503.1,276.5 504.1,275.2 505.1,276.8 506.1,276.2 507.1,274.0 508.1,273.2 509.1,270.9 510.1,268.2 511.1,267.3 512.1,268.5 513.1,266.7 514.1,264.5 515.1,263.0 516.1,261.1 517.1,258.4 518.1,258.5 519.1,260.6 520.1,257.6 521.1,256.0 522.1,252.9 523.1,248.1 524.1,245.4 525.1,247.0 526.1,247.7 527.1,242.5 528.1,241.1 529.1,239.5 530.1,239.3 531.1,235.3 532.1,231.7 533.1,230.0 534.1,228.1 535.1,228.8 536.1,227.8 537.1,227.7 538.1,229.9 539.1,231.1 540.1,232.8 541.1,236.0 542.1,241.4 543.1,245.5 544.1,250.0 545.1,254.2 546.1,260.5 547.1,268.2 548.1,276.5 549.1,282.5 550.1,290.8 551.1,295.6 552.1,299.4 553.1,301.9 554.1,303.8 555.1,305.7 556.1,307.1 557.1,307.8 558.1,308.2 559.1,308.8 560.1,309.3 561.1,309.2 562.1,309.3 563.1,309.5 564.1,309.6 565.1,309.8 566.1,309.9 567.1,310.0 568.1,310.1 569.1,310.3" fill="none" stroke="#000" stroke-width="1.6" stroke-linejoin="miter" stroke-miterlimit="2"/>
<polyline points="418.1,311.1 419.1,311.1 420.1,311.1 421.1,311.1 422.1,311.1 423.1,311.1 424.1,311.1 425.1,311.1 426.1,311.1 427.1,311.1 428.1,311.1 429.1,311.1 430.1,311.1 431.1,311.1 432.1,311.1 433.1,311.1 434.1,311.1 435.1,311.1 436.1,311.1 437.1,311.1 438.1,311.1 439.1,311.1 440.1,311.1 441.1,311.1 442.1,311.1 443.1,311.1 444.1,311.1 445.1,311.1 446.1,311.1 447.1,311.1 448.1,311.1 449.1,311.1 450.1,311.1 451.1,311.1 452.1,311.1 453.1,311.1 454.1,311.1 455.1,311.1 456.1,311.1 457.1,311.1 458.1,311.1 459.1,311.1 460.1,311.1 461.1,311.1 462.1,311.1 463.1,311.1 464.1,311.1 465.1,311.1 466.1,311.1 467.1,311.1 468.1,311.1 469.1,311.1 470.1,311.1 471.1,311.1 472.1,311.1 473.1,311.0 474.1,310.9 475.1,310.8 476.1,310.8 477.1,310.7 478.1,310.5 479.1,310.4 480.1,310.0 481.1,309.8 482.1,309.7 483.1,309.4 484.1,309.1 485.1,308.9 486.1,308.6 487.1,308.4 488.1,308.1 489.1,307.6 490.1,307.0 491.1,305.8 492.1,304.9 493.1,303.6 494.1,301.9 495.1,300.2 496.1,298.0 497.1,296.2 498.1,294.8 499.1,292.6 500.1,290.0 501.1,287.2 502.1,285.3 503.1,282.5 504.1,281.2 505.1,280.6 506.1,278.6 507.1,277.2 508.1,277.1 509.1,275.4 510.1,273.3 511.1,272.1 512.1,272.1 513.1,271.4 514.1,270.7 515.1,269.5 516.1,268.7 517.1,269.5 518.1,270.2 519.1,272.1 520.1,273.8 521.1,275.5 522.1,277.5 523.1,280.9 524.1,282.9 525.1,286.5 526.1,289.9 527.1,292.2 528.1,294.3 529.1,297.4 530.1,299.6 531.1,301.6 532.1,303.0 533.1,304.3 534.1,305.3 535.1,306.1 536.1,307.0 537.1,307.8 538.1,308.5 539.1,309.2 540.1,309.6 541.1,309.9 542.1,310.3 543.1,310.4 544.1,310.7 545.1,310.8 546.1,310.9 547.1,311.0 548.1,311.1 549.1,311.1 550.1,311.1 551.1,311.1 552.1,311.1 553.1,311.1 554.1,311.1 555.1,311.1 556.1,311.1 557.1,311.1 558.1,311.1 559.1,311.1 560.1,311.1 561.1,311.1 562.1,311.1 563.1,311.1 564.1,311.1 565.1,311.1 566.1,311.1 567.1,311.1 568.1,311.1 569.1,311.1" fill="none" stroke="#74b4e6" stroke-width="1.7" stroke-linejoin="round"/>
<polyline points="418.1,311.1 419.1,311.1 420.1,311.1 421.1,311.1 422.1,311.1 423.1,311.1 424.1,311.1 425.1,311.1 426.1,311.1 427.1,311.1 428.1,311.1 429.1,311.1 430.1,311.1 431.1,311.1 432.1,311.1 433.1,311.1 434.1,311.1 435.1,311.1 436.1,311.1 437.1,311.1 438.1,311.1 439.1,311.1 440.1,311.1 441.1,311.1 442.1,311.1 443.1,311.1 444.1,311.1 445.1,311.1 446.1,311.1 447.1,311.1 448.1,311.1 449.1,311.1 450.1,311.0 451.1,310.9 452.1,310.7 453.1,310.6 454.1,310.4 455.1,310.1 456.1,309.6 457.1,309.3 458.1,309.1 459.1,308.5 460.1,307.8 461.1,306.5 462.1,305.5 463.1,304.3 464.1,302.8 465.1,301.5 466.1,299.4 467.1,297.6 468.1,295.2 469.1,292.6 470.1,291.3 471.1,289.7 472.1,288.5 473.1,287.3 474.1,284.7 475.1,284.8 476.1,284.5 477.1,284.1 478.1,285.6 479.1,284.6 480.1,285.0 481.1,285.8 482.1,285.8 483.1,286.6 484.1,285.2 485.1,285.7 486.1,288.7 487.1,289.8 488.1,290.1 489.1,291.2 490.1,293.2 491.1,294.4 492.1,295.6 493.1,297.2 494.1,298.0 495.1,299.6 496.1,301.2 497.1,302.5 498.1,302.9 499.1,304.4 500.1,305.4 501.1,306.8 502.1,307.1 503.1,307.6 504.1,308.1 505.1,308.6 506.1,309.3 507.1,309.8 508.1,310.2 509.1,310.3 510.1,310.5 511.1,310.7 512.1,310.7 513.1,310.9 514.1,310.9 515.1,311.0 516.1,311.1 517.1,311.1 518.1,311.1 519.1,311.1 520.1,311.1 521.1,311.1 522.1,311.1 523.1,311.1 524.1,311.1 525.1,311.1 526.1,311.1 527.1,311.1 528.1,311.1 529.1,311.1 530.1,311.1 531.1,311.1 532.1,311.1 533.1,311.1 534.1,311.1 535.1,311.1 536.1,311.1" fill="none" stroke="#f6b3c8" stroke-width="1.7" stroke-linejoin="round"/>
<polyline points="418.1,311.1 419.1,311.1 420.1,311.1 421.1,311.1 422.1,311.1 423.1,311.1 424.1,311.0 425.1,310.7 426.1,310.4 427.1,310.2 428.1,310.0 429.1,309.8 430.1,309.6 431.1,309.6 432.1,309.3 433.1,309.0 434.1,309.0 435.1,308.4 436.1,308.0 437.1,307.6 438.1,305.9 439.1,303.4 440.1,301.1 441.1,298.3 442.1,295.6 443.1,292.5 444.1,290.5 445.1,289.4 446.1,287.4 447.1,285.2 448.1,283.6 449.1,283.0 450.1,283.0 451.1,283.4 452.1,282.0 453.1,281.4 454.1,280.4 455.1,280.4 456.1,279.3 457.1,279.3 458.1,279.3 459.1,279.1 460.1,278.6 461.1,280.3 462.1,281.3 463.1,283.7 464.1,285.4 465.1,287.4 466.1,290.3 467.1,293.9 468.1,295.1 469.1,296.3 470.1,297.9 471.1,299.9 472.1,301.3 473.1,302.9 474.1,304.1 475.1,305.4 476.1,306.3 477.1,307.5 478.1,307.7 479.1,308.1 480.1,308.6 481.1,308.7 482.1,309.1 483.1,309.6 484.1,309.8 485.1,310.2 486.1,311.1 487.1,311.1 488.1,311.1 489.1,311.1 490.1,311.1 491.1,311.1 492.1,311.1 493.1,311.1 494.1,311.1 495.1,311.1 496.1,311.1 497.1,311.1 498.1,311.1 499.1,311.1 500.1,311.1 501.1,311.1 502.1,311.1 503.1,311.1 504.1,311.1 505.1,311.1 506.1,311.1 507.1,311.1 508.1,311.1 509.1,311.1 510.1,311.1 511.1,311.1 512.1,311.1 513.1,311.1 514.1,311.1 515.1,311.1" fill="none" stroke="#ed1c24" stroke-width="1.7" stroke-linejoin="round"/>
<polyline points="418.1,311.1 419.1,311.1 420.1,311.1 421.1,311.1 422.1,311.1 423.1,311.1 424.1,311.1 425.1,311.1 426.1,311.1 427.1,311.1 428.1,311.1 429.1,311.1 430.1,311.1 431.1,311.1 432.1,311.1 433.1,311.1 434.1,311.1 435.1,311.1 436.1,311.1 437.1,311.1 438.1,311.1 439.1,311.1 440.1,311.1 441.1,311.1 442.1,311.1 443.1,311.1 444.1,311.1 445.1,311.1 446.1,311.1 447.1,311.1 448.1,311.1 449.1,311.1 450.1,311.1 451.1,311.1 452.1,311.1 453.1,311.1 454.1,311.1 455.1,311.1 456.1,311.1 457.1,311.1 458.1,311.1 459.1,311.1 460.1,311.1 461.1,311.1 462.1,311.1 463.1,311.1 464.1,311.1 465.1,311.1 466.1,311.1 467.1,311.1 468.1,311.1 469.1,311.1 470.1,311.1 471.1,311.1 472.1,311.1 473.1,311.1 474.1,311.1 475.1,311.1 476.1,311.1 477.1,311.1 478.1,311.1 479.1,311.1 480.1,311.1 481.1,311.1 482.1,311.1 483.1,311.1 484.1,311.1 485.1,311.1 486.1,311.1 487.1,311.1 488.1,311.1 489.1,311.1 490.1,311.1 491.1,311.1 492.1,311.1 493.1,311.1 494.1,311.1 495.1,311.1 496.1,311.0 497.1,310.9 498.1,310.8 499.1,310.7 500.1,310.6 501.1,310.4 502.1,310.3 503.1,310.2 504.1,310.0 505.1,309.8 506.1,309.4 507.1,309.1 508.1,308.9 509.1,308.5 510.1,308.0 511.1,307.3 512.1,306.4 513.1,305.5 514.1,304.5 515.1,303.2 516.1,301.7 517.1,299.8 518.1,298.5 519.1,296.3 520.1,294.5 521.1,292.4 522.1,289.2 523.1,285.7 524.1,281.8 525.1,278.4 526.1,273.1 527.1,265.2 528.1,259.2 529.1,255.5 530.1,252.8 531.1,247.4 532.1,241.8 533.1,238.4 534.1,235.7 535.1,233.7 536.1,231.2 537.1,230.8 538.1,233.1 539.1,234.7 540.1,237.1 541.1,239.9 542.1,244.0 543.1,247.2 544.1,250.5 545.1,254.5 546.1,260.7 547.1,268.3 548.1,276.5 549.1,282.5 550.1,290.8 551.1,295.6 552.1,299.4 553.1,301.9 554.1,303.8 555.1,305.7 556.1,307.1 557.1,307.8 558.1,308.2 559.1,308.8 560.1,309.3 561.1,309.2 562.1,309.3 563.1,309.5 564.1,309.6 565.1,309.8 566.1,309.9 567.1,310.0 568.1,310.1 569.1,310.3" fill="none" stroke="#3045a8" stroke-width="1.7" stroke-linejoin="round"/>
<text x="400.3" y="276.4" font-size="9.3" fill="#231f20" transform="rotate(-90 400.3 276.4)" textLength="31.4" lengthAdjust="spacingAndGlyphs">Density</text>
<text x="0" y="0" font-size="9.6" fill="#231f20" transform="translate(461 335.8) scale(1 1.1)" textLength="66.5" lengthAdjust="spacingAndGlyphs">Apparent FRET</text>
<text x="0" y="0" font-size="9" fill="#333" transform="translate(453 273.5) scale(1 1.1)">R*</text>
<text x="0" y="0" font-size="9" fill="#333" transform="translate(479.1 277.5) scale(1 1.1)">R*'</text>
<text x="0" y="0" font-size="9" fill="#333" transform="translate(507.5 263.3) scale(1 1.1)">R'</text>
<text x="0" y="0" font-size="9" fill="#333" transform="translate(536.1 223.4) scale(1 1.1)">R</text>
<text x="0" y="0" font-size="9.3" fill="#231f20" font-weight="bold" stroke="#231f20" stroke-width="0.15" transform="translate(447.1 298.8) scale(1 1.12)">19%</text>
<text x="0" y="0" font-size="9.3" fill="#231f20" font-weight="bold" stroke="#231f20" stroke-width="0.15" transform="translate(473.6 298.8) scale(1 1.12)">17%</text>
<text x="0" y="0" font-size="9.3" fill="#231f20" font-weight="bold" stroke="#231f20" stroke-width="0.15" transform="translate(501.5 294.8) scale(1 1.12)">25%</text>
<text x="0" y="0" font-size="9.3" fill="#231f20" font-weight="bold" stroke="#231f20" stroke-width="0.15" transform="translate(529.5 284.2) scale(1 1.12)">39%</text>
<rect x="235.6" y="43.2" width="107.8" height="106.3" fill="rgb(69,42,126)"/>
<g clip-path="url(#c23543)" filter="url(#rough)">
<ellipse cx="301.3" cy="75.8" rx="5.28" ry="4.05" fill="#2b2f82" transform="rotate(35 301.3 75.8)"/>
<ellipse cx="309.4" cy="85.5" rx="4.05" ry="5.28" fill="#2b2f82"/>
<ellipse cx="275.7" cy="97.7" rx="2.11" ry="3.96" fill="#2b2f82"/>
<ellipse cx="285.7" cy="108.5" rx="3.78" ry="2.64" fill="#2b2f82" transform="rotate(35 285.7 108.5)"/>
<ellipse cx="302.5" cy="77.0" rx="3.6" ry="3.24" fill="#3a5db2" transform="rotate(35 302.5 77.0)"/>
<ellipse cx="309.2" cy="84.2" rx="3.33" ry="3.87" fill="#3a5db2"/>
<ellipse cx="275.7" cy="97.7" rx="1.17" ry="2.7" fill="#3a5db2"/>
<ellipse cx="285.8" cy="108.6" rx="2.7" ry="1.62" fill="#3a5db2" transform="rotate(35 285.8 108.6)"/>
</g>
<g clip-path="url(#c23543)" filter="url(#soft)">
<ellipse cx="302.7" cy="77.2" rx="2.73" ry="2.73" fill="#33b24c"/>
<ellipse cx="309.1" cy="83.6" rx="2.73" ry="2.73" fill="#33b24c"/>
<ellipse cx="302.7" cy="77.2" rx="1.84" ry="1.84" fill="#f1e41e"/>
<ellipse cx="309.1" cy="83.6" rx="1.84" ry="1.84" fill="#f1e41e"/>
<ellipse cx="302.8" cy="77.3" rx="0.66" ry="0.66" fill="#f6911f"/>
<ellipse cx="309.1" cy="83.6" rx="0.66" ry="0.66" fill="#f6911f"/>
</g>
<rect x="235.6" y="43.2" width="107.8" height="106.3" fill="none" stroke="#1a1030" stroke-width="1"/>
<line x1="233.1" y1="149.5" x2="235.6" y2="149.5" stroke="#000" stroke-width="1"/>
<text transform="translate(232.1 151.8) scale(1 1.12)" font-size="6.2" fill="#555" text-anchor="end">-0.2</text>
<line x1="235.6" y1="149.5" x2="235.6" y2="152.0" stroke="#000" stroke-width="1"/>
<text transform="translate(235.6 159.2) scale(1 1.12)" font-size="6.2" fill="#555" text-anchor="middle">-0.2</text>
<line x1="233.1" y1="134.3" x2="235.6" y2="134.3" stroke="#000" stroke-width="1"/>
<text transform="translate(232.1 136.6) scale(1 1.12)" font-size="6.2" fill="#555" text-anchor="end">0.0</text>
<line x1="251.0" y1="149.5" x2="251.0" y2="152.0" stroke="#000" stroke-width="1"/>
<text transform="translate(251.0 159.2) scale(1 1.12)" font-size="6.2" fill="#555" text-anchor="middle">0.0</text>
<line x1="233.1" y1="119.1" x2="235.6" y2="119.1" stroke="#000" stroke-width="1"/>
<text transform="translate(232.1 121.4) scale(1 1.12)" font-size="6.2" fill="#555" text-anchor="end">0.2</text>
<line x1="266.4" y1="149.5" x2="266.4" y2="152.0" stroke="#000" stroke-width="1"/>
<text transform="translate(266.4 159.2) scale(1 1.12)" font-size="6.2" fill="#555" text-anchor="middle">0.2</text>
<line x1="233.1" y1="103.9" x2="235.6" y2="103.9" stroke="#000" stroke-width="1"/>
<text transform="translate(232.1 106.2) scale(1 1.12)" font-size="6.2" fill="#555" text-anchor="end">0.4</text>
<line x1="281.8" y1="149.5" x2="281.8" y2="152.0" stroke="#000" stroke-width="1"/>
<text transform="translate(281.8 159.2) scale(1 1.12)" font-size="6.2" fill="#555" text-anchor="middle">0.4</text>
<line x1="233.1" y1="88.8" x2="235.6" y2="88.8" stroke="#000" stroke-width="1"/>
<text transform="translate(232.1 91.1) scale(1 1.12)" font-size="6.2" fill="#555" text-anchor="end">0.6</text>
<line x1="297.2" y1="149.5" x2="297.2" y2="152.0" stroke="#000" stroke-width="1"/>
<text transform="translate(297.2 159.2) scale(1 1.12)" font-size="6.2" fill="#555" text-anchor="middle">0.6</text>
<line x1="233.1" y1="73.6" x2="235.6" y2="73.6" stroke="#000" stroke-width="1"/>
<text transform="translate(232.1 75.9) scale(1 1.12)" font-size="6.2" fill="#555" text-anchor="end">0.8</text>
<line x1="312.6" y1="149.5" x2="312.6" y2="152.0" stroke="#000" stroke-width="1"/>
<text transform="translate(312.6 159.2) scale(1 1.12)" font-size="6.2" fill="#555" text-anchor="middle">0.8</text>
<line x1="233.1" y1="58.4" x2="235.6" y2="58.4" stroke="#000" stroke-width="1"/>
<text transform="translate(232.1 60.7) scale(1 1.12)" font-size="6.2" fill="#555" text-anchor="end">1.0</text>
<line x1="328.0" y1="149.5" x2="328.0" y2="152.0" stroke="#000" stroke-width="1"/>
<text transform="translate(328.0 159.2) scale(1 1.12)" font-size="6.2" fill="#555" text-anchor="middle">1.0</text>
<line x1="233.1" y1="43.2" x2="235.6" y2="43.2" stroke="#000" stroke-width="1"/>
<text transform="translate(232.1 45.5) scale(1 1.12)" font-size="6.2" fill="#555" text-anchor="end">1.2</text>
<line x1="343.4" y1="149.5" x2="343.4" y2="152.0" stroke="#000" stroke-width="1"/>
<text transform="translate(343.4 159.2) scale(1 1.12)" font-size="6.2" fill="#555" text-anchor="middle">1.2</text>
<text x="217.2" y="120.0" font-size="9.6" fill="#231f20" transform="rotate(-90 217.2 120.0)" textLength="50" lengthAdjust="spacingAndGlyphs">Final FRET</text>
<text x="0" y="0" font-size="9.6" fill="#231f20" transform="translate(265 172) scale(1 1.1)" textLength="49.8" lengthAdjust="spacingAndGlyphs">Initial FRET</text>
<rect x="235.6" y="207.3" width="107.8" height="106.3" fill="rgb(69,42,126)"/>
<g clip-path="url(#c235207)" filter="url(#rough)">
<ellipse cx="290.5" cy="237.5" rx="10.56" ry="4.84" fill="#2b2f82" transform="rotate(35 290.5 237.5)"/>
<ellipse cx="312" cy="257.5" rx="6.16" ry="8.36" fill="#2b2f82"/>
<ellipse cx="270" cy="262" rx="7.92" ry="4.84" fill="#2b2f82" transform="rotate(35 270 262)"/>
<ellipse cx="286.5" cy="278" rx="6.6" ry="5.28" fill="#2b2f82"/>
<ellipse cx="294.5" cy="240" rx="7.65" ry="3.78" fill="#3a5db2" transform="rotate(35 294.5 240)"/>
<ellipse cx="311.5" cy="256" rx="4.95" ry="6.3" fill="#3a5db2"/>
<ellipse cx="274.5" cy="267" rx="4.05" ry="3.78" fill="#3a5db2"/>
<ellipse cx="285.5" cy="277" rx="5.4" ry="4.32" fill="#3a5db2"/>
</g>
<g clip-path="url(#c235207)" filter="url(#soft)">
<ellipse cx="299.5" cy="242.3" rx="3.78" ry="3.57" fill="#33b24c"/>
<ellipse cx="308.8" cy="251.5" rx="4.51" ry="3.46" fill="#33b24c"/>
<ellipse cx="275.6" cy="266.9" rx="2.73" ry="2.73" fill="#33b24c"/>
<ellipse cx="283.5" cy="274.9" rx="2.62" ry="2.31" fill="#33b24c"/>
<ellipse cx="299.5" cy="242.3" rx="2.53" ry="2.3" fill="#f1e41e"/>
<ellipse cx="308.6" cy="251.4" rx="3.33" ry="2.18" fill="#f1e41e"/>
<ellipse cx="275.6" cy="267" rx="1.26" ry="1.26" fill="#f1e41e"/>
<ellipse cx="299.5" cy="242.3" rx="1.32" ry="1.32" fill="#f6911f"/>
<ellipse cx="299.6" cy="242.4" rx="0.6" ry="0.6" fill="#e9202a"/>
</g>
<line x1="261.8" y1="207.8" x2="261.8" y2="261.6" stroke="#5c4c96" stroke-width="1"/>
<rect x="235.6" y="207.3" width="107.8" height="106.3" fill="none" stroke="#1a1030" stroke-width="1"/>
<line x1="233.1" y1="313.6" x2="235.6" y2="313.6" stroke="#000" stroke-width="1"/>
<text transform="translate(232.1 315.9) scale(1 1.12)" font-size="6.2" fill="#555" text-anchor="end">-0.2</text>
<line x1="235.6" y1="313.6" x2="235.6" y2="316.1" stroke="#000" stroke-width="1"/>
<text transform="translate(235.6 323.3) scale(1 1.12)" font-size="6.2" fill="#555" text-anchor="middle">-0.2</text>
<line x1="233.1" y1="298.4" x2="235.6" y2="298.4" stroke="#000" stroke-width="1"/>
<text transform="translate(232.1 300.7) scale(1 1.12)" font-size="6.2" fill="#555" text-anchor="end">0.0</text>
<line x1="251.0" y1="313.6" x2="251.0" y2="316.1" stroke="#000" stroke-width="1"/>
<text transform="translate(251.0 323.3) scale(1 1.12)" font-size="6.2" fill="#555" text-anchor="middle">0.0</text>
<line x1="233.1" y1="283.2" x2="235.6" y2="283.2" stroke="#000" stroke-width="1"/>
<text transform="translate(232.1 285.5) scale(1 1.12)" font-size="6.2" fill="#555" text-anchor="end">0.2</text>
<line x1="266.4" y1="313.6" x2="266.4" y2="316.1" stroke="#000" stroke-width="1"/>
<text transform="translate(266.4 323.3) scale(1 1.12)" font-size="6.2" fill="#555" text-anchor="middle">0.2</text>
<line x1="233.1" y1="268.0" x2="235.6" y2="268.0" stroke="#000" stroke-width="1"/>
<text transform="translate(232.1 270.3) scale(1 1.12)" font-size="6.2" fill="#555" text-anchor="end">0.4</text>
<line x1="281.8" y1="313.6" x2="281.8" y2="316.1" stroke="#000" stroke-width="1"/>
<text transform="translate(281.8 323.3) scale(1 1.12)" font-size="6.2" fill="#555" text-anchor="middle">0.4</text>
<line x1="233.1" y1="252.9" x2="235.6" y2="252.9" stroke="#000" stroke-width="1"/>
<text transform="translate(232.1 255.2) scale(1 1.12)" font-size="6.2" fill="#555" text-anchor="end">0.6</text>
<line x1="297.2" y1="313.6" x2="297.2" y2="316.1" stroke="#000" stroke-width="1"/>
<text transform="translate(297.2 323.3) scale(1 1.12)" font-size="6.2" fill="#555" text-anchor="middle">0.6</text>
<line x1="233.1" y1="237.7" x2="235.6" y2="237.7" stroke="#000" stroke-width="1"/>
<text transform="translate(232.1 240.0) scale(1 1.12)" font-size="6.2" fill="#555" text-anchor="end">0.8</text>
<line x1="312.6" y1="313.6" x2="312.6" y2="316.1" stroke="#000" stroke-width="1"/>
<text transform="translate(312.6 323.3) scale(1 1.12)" font-size="6.2" fill="#555" text-anchor="middle">0.8</text>
<line x1="233.1" y1="222.5" x2="235.6" y2="222.5" stroke="#000" stroke-width="1"/>
<text transform="translate(232.1 224.8) scale(1 1.12)" font-size="6.2" fill="#555" text-anchor="end">1.0</text>
<line x1="328.0" y1="313.6" x2="328.0" y2="316.1" stroke="#000" stroke-width="1"/>
<text transform="translate(328.0 323.3) scale(1 1.12)" font-size="6.2" fill="#555" text-anchor="middle">1.0</text>
<line x1="233.1" y1="207.3" x2="235.6" y2="207.3" stroke="#000" stroke-width="1"/>
<text transform="translate(232.1 209.6) scale(1 1.12)" font-size="6.2" fill="#555" text-anchor="end">1.2</text>
<line x1="343.4" y1="313.6" x2="343.4" y2="316.1" stroke="#000" stroke-width="1"/>
<text transform="translate(343.4 323.3) scale(1 1.12)" font-size="6.2" fill="#555" text-anchor="middle">1.2</text>
<text x="217.2" y="284.1" font-size="9.6" fill="#231f20" transform="rotate(-90 217.2 284.1)" textLength="50" lengthAdjust="spacingAndGlyphs">Final FRET</text>
<text x="0" y="0" font-size="9.6" fill="#231f20" transform="translate(265 336) scale(1 1.1)" textLength="49.8" lengthAdjust="spacingAndGlyphs">Initial FRET</text>
<rect x="603" y="43.3" width="107.8" height="106.3" fill="rgb(69,42,126)"/>
<g clip-path="url(#c60343)" filter="url(#rough)">
<ellipse cx="671" cy="71.5" rx="6.16" ry="5.28" fill="#2b2f82"/>
<ellipse cx="681.5" cy="83" rx="5.72" ry="7.04" fill="#2b2f82"/>
<ellipse cx="649.5" cy="86" rx="7.92" ry="6.6" fill="#2b2f82" transform="rotate(40 649.5 86)"/>
<ellipse cx="667" cy="102.5" rx="7.04" ry="7.48" fill="#2b2f82"/>
<ellipse cx="634" cy="107" rx="4.84" ry="5.72" fill="#2b2f82" transform="rotate(20 634 107)"/>
<ellipse cx="644.3" cy="117" rx="4.84" ry="3.96" fill="#2b2f82" transform="rotate(10 644.3 117)"/>
<ellipse cx="671.5" cy="72.5" rx="4.5" ry="3.6" fill="#3a5db2"/>
<ellipse cx="680" cy="81.5" rx="4.5" ry="4.95" fill="#3a5db2"/>
<ellipse cx="651" cy="87" rx="6.3" ry="5.4" fill="#3a5db2" transform="rotate(40 651 87)"/>
<ellipse cx="666.5" cy="102" rx="6.03" ry="6.48" fill="#3a5db2"/>
<ellipse cx="635.2" cy="108.2" rx="3.42" ry="3.78" fill="#3a5db2"/>
<ellipse cx="644.3" cy="117" rx="4.23" ry="3.06" fill="#3a5db2" transform="rotate(10 644.3 117)"/>
</g>
<g clip-path="url(#c60343)" filter="url(#soft)">
<ellipse cx="672.4" cy="72.6" rx="3.99" ry="3.36" fill="#33b24c"/>
<ellipse cx="680" cy="80.8" rx="3.78" ry="3.99" fill="#33b24c"/>
<ellipse cx="653" cy="88.7" rx="4.62" ry="5.25" fill="#33b24c"/>
<ellipse cx="665.5" cy="100.8" rx="4.73" ry="4.73" fill="#33b24c"/>
<ellipse cx="636.3" cy="109.6" rx="2.62" ry="2.84" fill="#33b24c"/>
<ellipse cx="643.6" cy="116.5" rx="3.57" ry="2.52" fill="#33b24c"/>
<ellipse cx="672.4" cy="72.6" rx="3.1" ry="2.53" fill="#f1e41e"/>
<ellipse cx="680" cy="80.8" rx="2.88" ry="3.1" fill="#f1e41e"/>
<ellipse cx="652.8" cy="88.4" rx="3.45" ry="3.68" fill="#f1e41e"/>
<ellipse cx="664.4" cy="99.5" rx="3.91" ry="3.79" fill="#f1e41e"/>
<ellipse cx="642.8" cy="116.2" rx="1.49" ry="1.26" fill="#f1e41e"/>
<ellipse cx="672.6" cy="72.7" rx="1.43" ry="1.21" fill="#f6911f"/>
<ellipse cx="680" cy="80.8" rx="1.54" ry="1.65" fill="#f6911f"/>
<ellipse cx="652.8" cy="88.5" rx="1.87" ry="1.87" fill="#f6911f"/>
<ellipse cx="664.4" cy="99.5" rx="1.98" ry="1.98" fill="#f6911f"/>
<ellipse cx="652.8" cy="88.5" rx="0.6" ry="0.6" fill="#e9202a"/>
<ellipse cx="664.4" cy="99.5" rx="0.6" ry="0.6" fill="#e9202a"/>
</g>
<rect x="603" y="43.3" width="107.8" height="106.3" fill="none" stroke="#1a1030" stroke-width="1"/>
<line x1="600.5" y1="149.6" x2="603" y2="149.6" stroke="#000" stroke-width="1"/>
<text transform="translate(599.5 151.9) scale(1 1.12)" font-size="6.2" fill="#555" text-anchor="end">-0.2</text>
<line x1="603.0" y1="149.6" x2="603.0" y2="152.1" stroke="#000" stroke-width="1"/>
<text transform="translate(603.0 159.3) scale(1 1.12)" font-size="6.2" fill="#555" text-anchor="middle">-0.2</text>
<line x1="600.5" y1="134.4" x2="603" y2="134.4" stroke="#000" stroke-width="1"/>
<text transform="translate(599.5 136.7) scale(1 1.12)" font-size="6.2" fill="#555" text-anchor="end">0.0</text>
<line x1="618.4" y1="149.6" x2="618.4" y2="152.1" stroke="#000" stroke-width="1"/>
<text transform="translate(618.4 159.3) scale(1 1.12)" font-size="6.2" fill="#555" text-anchor="middle">0.0</text>
<line x1="600.5" y1="119.2" x2="603" y2="119.2" stroke="#000" stroke-width="1"/>
<text transform="translate(599.5 121.5) scale(1 1.12)" font-size="6.2" fill="#555" text-anchor="end">0.2</text>
<line x1="633.8" y1="149.6" x2="633.8" y2="152.1" stroke="#000" stroke-width="1"/>
<text transform="translate(633.8 159.3) scale(1 1.12)" font-size="6.2" fill="#555" text-anchor="middle">0.2</text>
<line x1="600.5" y1="104.0" x2="603" y2="104.0" stroke="#000" stroke-width="1"/>
<text transform="translate(599.5 106.3) scale(1 1.12)" font-size="6.2" fill="#555" text-anchor="end">0.4</text>
<line x1="649.2" y1="149.6" x2="649.2" y2="152.1" stroke="#000" stroke-width="1"/>
<text transform="translate(649.2 159.3) scale(1 1.12)" font-size="6.2" fill="#555" text-anchor="middle">0.4</text>
<line x1="600.5" y1="88.9" x2="603" y2="88.9" stroke="#000" stroke-width="1"/>
<text transform="translate(599.5 91.2) scale(1 1.12)" font-size="6.2" fill="#555" text-anchor="end">0.6</text>
<line x1="664.6" y1="149.6" x2="664.6" y2="152.1" stroke="#000" stroke-width="1"/>
<text transform="translate(664.6 159.3) scale(1 1.12)" font-size="6.2" fill="#555" text-anchor="middle">0.6</text>
<line x1="600.5" y1="73.7" x2="603" y2="73.7" stroke="#000" stroke-width="1"/>
<text transform="translate(599.5 76.0) scale(1 1.12)" font-size="6.2" fill="#555" text-anchor="end">0.8</text>
<line x1="680.0" y1="149.6" x2="680.0" y2="152.1" stroke="#000" stroke-width="1"/>
<text transform="translate(680.0 159.3) scale(1 1.12)" font-size="6.2" fill="#555" text-anchor="middle">0.8</text>
<line x1="600.5" y1="58.5" x2="603" y2="58.5" stroke="#000" stroke-width="1"/>
<text transform="translate(599.5 60.8) scale(1 1.12)" font-size="6.2" fill="#555" text-anchor="end">1.0</text>
<line x1="695.4" y1="149.6" x2="695.4" y2="152.1" stroke="#000" stroke-width="1"/>
<text transform="translate(695.4 159.3) scale(1 1.12)" font-size="6.2" fill="#555" text-anchor="middle">1.0</text>
<line x1="600.5" y1="43.3" x2="603" y2="43.3" stroke="#000" stroke-width="1"/>
<text transform="translate(599.5 45.6) scale(1 1.12)" font-size="6.2" fill="#555" text-anchor="end">1.2</text>
<line x1="710.8" y1="149.6" x2="710.8" y2="152.1" stroke="#000" stroke-width="1"/>
<text transform="translate(710.8 159.3) scale(1 1.12)" font-size="6.2" fill="#555" text-anchor="middle">1.2</text>
<text x="584.6" y="120.0" font-size="9.6" fill="#231f20" transform="rotate(-90 584.6 120.0)" textLength="50" lengthAdjust="spacingAndGlyphs">Final FRET</text>
<text x="0" y="0" font-size="9.6" fill="#231f20" transform="translate(632 172) scale(1 1.1)" textLength="49.8" lengthAdjust="spacingAndGlyphs">Initial FRET</text>
<rect x="602.7" y="207.1" width="107.8" height="106.3" fill="rgb(69,42,126)"/>
<g clip-path="url(#c602207)" filter="url(#rough)">
<ellipse cx="671" cy="232.5" rx="7.92" ry="5.28" fill="#2b2f82" transform="rotate(45 671 232.5)"/>
<ellipse cx="684.5" cy="246.5" rx="6.6" ry="5.72" fill="#2b2f82" transform="rotate(45 684.5 246.5)"/>
<ellipse cx="648" cy="247" rx="8.36" ry="5.72" fill="#2b2f82" transform="rotate(30 648 247)"/>
<ellipse cx="668" cy="265" rx="7.04" ry="6.16" fill="#2b2f82"/>
<ellipse cx="633" cy="270.5" rx="5.72" ry="3.34" fill="#2b2f82" transform="rotate(40 633 270.5)"/>
<ellipse cx="646" cy="283" rx="6.16" ry="3.34" fill="#2b2f82" transform="rotate(40 646 283)"/>
<ellipse cx="672" cy="233.7" rx="6.75" ry="4.32" fill="#3a5db2" transform="rotate(45 672 233.7)"/>
<ellipse cx="684.5" cy="246" rx="5.85" ry="4.77" fill="#3a5db2" transform="rotate(45 684.5 246)"/>
<ellipse cx="650.5" cy="249.5" rx="6.75" ry="5.22" fill="#3a5db2" transform="rotate(35 650.5 249.5)"/>
<ellipse cx="667.5" cy="264.5" rx="6.48" ry="5.31" fill="#3a5db2"/>
<ellipse cx="636" cy="273.5" rx="2.88" ry="2.88" fill="#3a5db2"/>
<ellipse cx="643.7" cy="280.6" rx="2.7" ry="2.88" fill="#3a5db2"/>
</g>
<g clip-path="url(#c602207)" filter="url(#soft)">
<ellipse cx="673.3" cy="234.3" rx="6.51" ry="4.41" fill="#33b24c" transform="rotate(45 673.3 234.3)"/>
<ellipse cx="683" cy="244.4" rx="5.88" ry="3.99" fill="#33b24c" transform="rotate(45 683 244.4)"/>
<ellipse cx="652.9" cy="250.8" rx="3.57" ry="4.2" fill="#33b24c"/>
<ellipse cx="665.9" cy="263.8" rx="5.25" ry="4.2" fill="#33b24c"/>
<ellipse cx="636" cy="273.5" rx="1.47" ry="1.26" fill="#33b24c"/>
<ellipse cx="643.1" cy="280.2" rx="1.26" ry="1.37" fill="#33b24c"/>
<ellipse cx="673.8" cy="234.6" rx="4.14" ry="2.76" fill="#f1e41e" transform="rotate(45 673.8 234.6)"/>
<ellipse cx="682.7" cy="243.9" rx="3.91" ry="2.3" fill="#f1e41e" transform="rotate(45 682.7 243.9)"/>
<ellipse cx="653.4" cy="252" rx="1.26" ry="1.49" fill="#f1e41e"/>
<ellipse cx="665.1" cy="263" rx="2.99" ry="1.84" fill="#f1e41e"/>
<ellipse cx="674.2" cy="234.9" rx="1.87" ry="1.65" fill="#f6911f"/>
<ellipse cx="674.2" cy="234.9" rx="0.8" ry="0.8" fill="#e9202a"/>
</g>
<rect x="602.7" y="207.1" width="107.8" height="106.3" fill="none" stroke="#1a1030" stroke-width="1"/>
<line x1="600.2" y1="313.4" x2="602.7" y2="313.4" stroke="#000" stroke-width="1"/>
<text transform="translate(599.2 315.7) scale(1 1.12)" font-size="6.2" fill="#555" text-anchor="end">-0.2</text>
<line x1="602.7" y1="313.4" x2="602.7" y2="315.9" stroke="#000" stroke-width="1"/>
<text transform="translate(602.7 323.1) scale(1 1.12)" font-size="6.2" fill="#555" text-anchor="middle">-0.2</text>
<line x1="600.2" y1="298.2" x2="602.7" y2="298.2" stroke="#000" stroke-width="1"/>
<text transform="translate(599.2 300.5) scale(1 1.12)" font-size="6.2" fill="#555" text-anchor="end">0.0</text>
<line x1="618.1" y1="313.4" x2="618.1" y2="315.9" stroke="#000" stroke-width="1"/>
<text transform="translate(618.1 323.1) scale(1 1.12)" font-size="6.2" fill="#555" text-anchor="middle">0.0</text>
<line x1="600.2" y1="283.0" x2="602.7" y2="283.0" stroke="#000" stroke-width="1"/>
<text transform="translate(599.2 285.3) scale(1 1.12)" font-size="6.2" fill="#555" text-anchor="end">0.2</text>
<line x1="633.5" y1="313.4" x2="633.5" y2="315.9" stroke="#000" stroke-width="1"/>
<text transform="translate(633.5 323.1) scale(1 1.12)" font-size="6.2" fill="#555" text-anchor="middle">0.2</text>
<line x1="600.2" y1="267.8" x2="602.7" y2="267.8" stroke="#000" stroke-width="1"/>
<text transform="translate(599.2 270.1) scale(1 1.12)" font-size="6.2" fill="#555" text-anchor="end">0.4</text>
<line x1="648.9" y1="313.4" x2="648.9" y2="315.9" stroke="#000" stroke-width="1"/>
<text transform="translate(648.9 323.1) scale(1 1.12)" font-size="6.2" fill="#555" text-anchor="middle">0.4</text>
<line x1="600.2" y1="252.7" x2="602.7" y2="252.7" stroke="#000" stroke-width="1"/>
<text transform="translate(599.2 255.0) scale(1 1.12)" font-size="6.2" fill="#555" text-anchor="end">0.6</text>
<line x1="664.3" y1="313.4" x2="664.3" y2="315.9" stroke="#000" stroke-width="1"/>
<text transform="translate(664.3 323.1) scale(1 1.12)" font-size="6.2" fill="#555" text-anchor="middle">0.6</text>
<line x1="600.2" y1="237.5" x2="602.7" y2="237.5" stroke="#000" stroke-width="1"/>
<text transform="translate(599.2 239.8) scale(1 1.12)" font-size="6.2" fill="#555" text-anchor="end">0.8</text>
<line x1="679.7" y1="313.4" x2="679.7" y2="315.9" stroke="#000" stroke-width="1"/>
<text transform="translate(679.7 323.1) scale(1 1.12)" font-size="6.2" fill="#555" text-anchor="middle">0.8</text>
<line x1="600.2" y1="222.3" x2="602.7" y2="222.3" stroke="#000" stroke-width="1"/>
<text transform="translate(599.2 224.6) scale(1 1.12)" font-size="6.2" fill="#555" text-anchor="end">1.0</text>
<line x1="695.1" y1="313.4" x2="695.1" y2="315.9" stroke="#000" stroke-width="1"/>
<text transform="translate(695.1 323.1) scale(1 1.12)" font-size="6.2" fill="#555" text-anchor="middle">1.0</text>
<line x1="600.2" y1="207.1" x2="602.7" y2="207.1" stroke="#000" stroke-width="1"/>
<text transform="translate(599.2 209.4) scale(1 1.12)" font-size="6.2" fill="#555" text-anchor="end">1.2</text>
<line x1="710.5" y1="313.4" x2="710.5" y2="315.9" stroke="#000" stroke-width="1"/>
<text transform="translate(710.5 323.1) scale(1 1.12)" font-size="6.2" fill="#555" text-anchor="middle">1.2</text>
<text x="584.6" y="284.1" font-size="9.6" fill="#231f20" transform="rotate(-90 584.6 284.1)" textLength="50" lengthAdjust="spacingAndGlyphs">Final FRET</text>
<text x="0" y="0" font-size="9.6" fill="#231f20" transform="translate(632 336) scale(1 1.1)" textLength="49.8" lengthAdjust="spacingAndGlyphs">Initial FRET</text>
</svg></body></html>
